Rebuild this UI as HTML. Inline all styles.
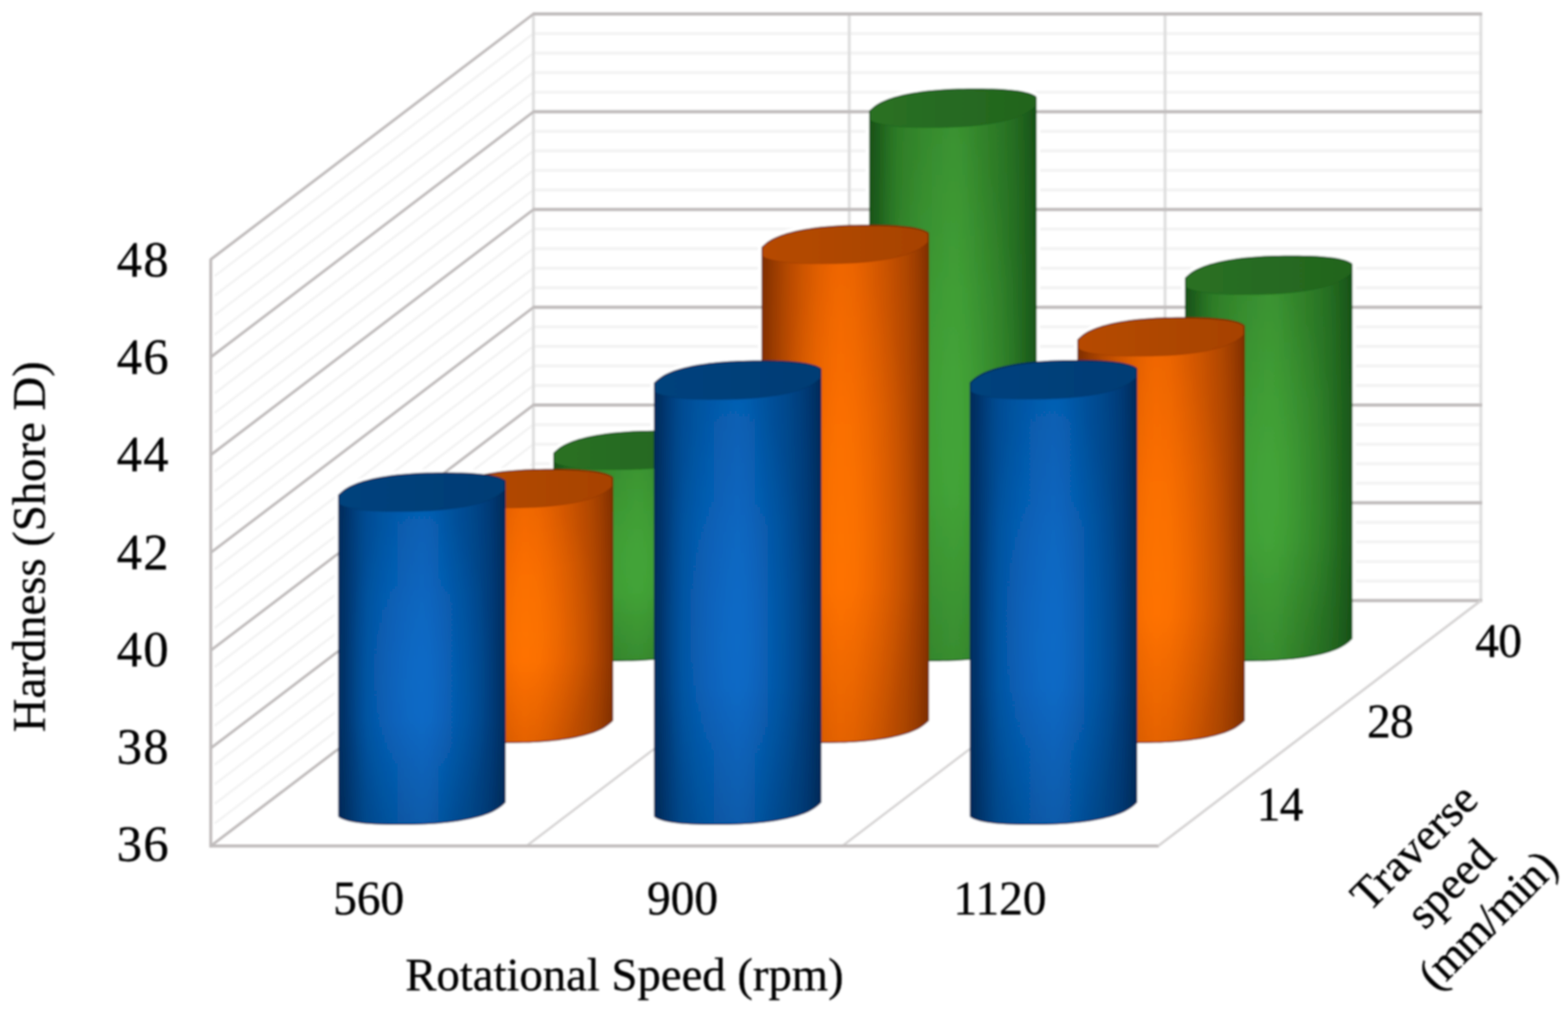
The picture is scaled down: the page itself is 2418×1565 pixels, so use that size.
<!DOCTYPE html>
<html lang="en">
<head>
<meta charset="utf-8">
<title>Hardness (Shore D) vs Rotational Speed and Traverse Speed</title>
<style>
html,body{margin:0;padding:0;background:#fff;}
body{width:2418px;height:1565px;overflow:hidden;}
svg{display:block;}
</style>
</head>
<body>
<svg width="2418" height="1565" viewBox="0 0 2418 1565" role="img" aria-label="3D cylinder chart of hardness (Shore D) against rotational speed (rpm) and traverse speed (mm/min)">
<defs>
<filter id="soft" x="-2%" y="-2%" width="104%" height="104%"><feGaussianBlur stdDeviation="1.5"/></filter>
</defs>
<rect x="0" y="0" width="2418" height="1565" fill="#ffffff"/>
<g filter="url(#soft)">
<g fill="none">
<line x1="822.60" y1="51.75" x2="2283.60" y2="51.75" stroke="#f3f3f3" stroke-width="4.6" />
<line x1="822.60" y1="81.89" x2="2283.60" y2="81.89" stroke="#f3f3f3" stroke-width="4.6" />
<line x1="822.60" y1="112.04" x2="2283.60" y2="112.04" stroke="#f3f3f3" stroke-width="4.6" />
<line x1="822.60" y1="142.19" x2="2283.60" y2="142.19" stroke="#f3f3f3" stroke-width="4.6" />
<line x1="822.60" y1="202.48" x2="2283.60" y2="202.48" stroke="#f3f3f3" stroke-width="4.6" />
<line x1="822.60" y1="232.63" x2="2283.60" y2="232.63" stroke="#f3f3f3" stroke-width="4.6" />
<line x1="822.60" y1="262.77" x2="2283.60" y2="262.77" stroke="#f3f3f3" stroke-width="4.6" />
<line x1="822.60" y1="292.92" x2="2283.60" y2="292.92" stroke="#f3f3f3" stroke-width="4.6" />
<line x1="822.60" y1="353.21" x2="2283.60" y2="353.21" stroke="#f3f3f3" stroke-width="4.6" />
<line x1="822.60" y1="383.36" x2="2283.60" y2="383.36" stroke="#f3f3f3" stroke-width="4.6" />
<line x1="822.60" y1="413.51" x2="2283.60" y2="413.51" stroke="#f3f3f3" stroke-width="4.6" />
<line x1="822.60" y1="443.65" x2="2283.60" y2="443.65" stroke="#f3f3f3" stroke-width="4.6" />
<line x1="822.60" y1="503.95" x2="2283.60" y2="503.95" stroke="#f3f3f3" stroke-width="4.6" />
<line x1="822.60" y1="534.09" x2="2283.60" y2="534.09" stroke="#f3f3f3" stroke-width="4.6" />
<line x1="822.60" y1="564.24" x2="2283.60" y2="564.24" stroke="#f3f3f3" stroke-width="4.6" />
<line x1="822.60" y1="594.39" x2="2283.60" y2="594.39" stroke="#f3f3f3" stroke-width="4.6" />
<line x1="822.60" y1="654.68" x2="2283.60" y2="654.68" stroke="#f3f3f3" stroke-width="4.6" />
<line x1="822.60" y1="684.83" x2="2283.60" y2="684.83" stroke="#f3f3f3" stroke-width="4.6" />
<line x1="822.60" y1="714.97" x2="2283.60" y2="714.97" stroke="#f3f3f3" stroke-width="4.6" />
<line x1="822.60" y1="745.12" x2="2283.60" y2="745.12" stroke="#f3f3f3" stroke-width="4.6" />
<line x1="822.60" y1="805.41" x2="2283.60" y2="805.41" stroke="#f3f3f3" stroke-width="4.6" />
<line x1="822.60" y1="835.56" x2="2283.60" y2="835.56" stroke="#f3f3f3" stroke-width="4.6" />
<line x1="822.60" y1="865.71" x2="2283.60" y2="865.71" stroke="#f3f3f3" stroke-width="4.6" />
<line x1="822.60" y1="895.85" x2="2283.60" y2="895.85" stroke="#f3f3f3" stroke-width="4.6" />
<line x1="331.00" y1="425.58" x2="822.60" y2="51.75" stroke="#f3f3f3" stroke-width="3.6" />
<line x1="331.00" y1="455.73" x2="822.60" y2="81.89" stroke="#f3f3f3" stroke-width="3.6" />
<line x1="331.00" y1="485.88" x2="822.60" y2="112.04" stroke="#f3f3f3" stroke-width="3.6" />
<line x1="331.00" y1="516.02" x2="822.60" y2="142.19" stroke="#f3f3f3" stroke-width="3.6" />
<line x1="331.00" y1="576.32" x2="822.60" y2="202.48" stroke="#f3f3f3" stroke-width="3.6" />
<line x1="331.00" y1="606.46" x2="822.60" y2="232.63" stroke="#f3f3f3" stroke-width="3.6" />
<line x1="331.00" y1="636.61" x2="822.60" y2="262.77" stroke="#f3f3f3" stroke-width="3.6" />
<line x1="331.00" y1="666.76" x2="822.60" y2="292.92" stroke="#f3f3f3" stroke-width="3.6" />
<line x1="331.00" y1="727.05" x2="822.60" y2="353.21" stroke="#f3f3f3" stroke-width="3.6" />
<line x1="331.00" y1="757.20" x2="822.60" y2="383.36" stroke="#f3f3f3" stroke-width="3.6" />
<line x1="331.00" y1="787.34" x2="822.60" y2="413.51" stroke="#f3f3f3" stroke-width="3.6" />
<line x1="331.00" y1="817.49" x2="822.60" y2="443.65" stroke="#f3f3f3" stroke-width="3.6" />
<line x1="331.00" y1="877.78" x2="822.60" y2="503.95" stroke="#f3f3f3" stroke-width="3.6" />
<line x1="331.00" y1="907.93" x2="822.60" y2="534.09" stroke="#f3f3f3" stroke-width="3.6" />
<line x1="331.00" y1="938.08" x2="822.60" y2="564.24" stroke="#f3f3f3" stroke-width="3.6" />
<line x1="331.00" y1="968.22" x2="822.60" y2="594.39" stroke="#f3f3f3" stroke-width="3.6" />
<line x1="331.00" y1="1028.52" x2="822.60" y2="654.68" stroke="#f3f3f3" stroke-width="3.6" />
<line x1="331.00" y1="1058.66" x2="822.60" y2="684.83" stroke="#f3f3f3" stroke-width="3.6" />
<line x1="331.00" y1="1088.81" x2="822.60" y2="714.97" stroke="#f3f3f3" stroke-width="3.6" />
<line x1="331.00" y1="1118.96" x2="822.60" y2="745.12" stroke="#f3f3f3" stroke-width="3.6" />
<line x1="331.00" y1="1179.25" x2="822.60" y2="805.41" stroke="#f3f3f3" stroke-width="3.6" />
<line x1="331.00" y1="1209.40" x2="822.60" y2="835.56" stroke="#f3f3f3" stroke-width="3.6" />
<line x1="331.00" y1="1239.54" x2="822.60" y2="865.71" stroke="#f3f3f3" stroke-width="3.6" />
<line x1="331.00" y1="1269.69" x2="822.60" y2="895.85" stroke="#f3f3f3" stroke-width="3.6" />
</g>
<g fill="#fff" stroke="#fff" stroke-width="13" stroke-linejoin="round">
<path d="M854.2,699.0 L858.9,694.5 L864.8,690.0 L870.6,686.5 L877.1,683.4 L884.4,680.5 L892.5,677.9 L901.3,675.5 L911.0,673.3 L921.3,671.4 L932.4,669.7 L944.1,668.2 L956.5,667.0 L969.5,666.1 L983.4,665.4 L998.4,665.0 L1017.4,664.9 L1036.0,665.0 L1050.1,665.4 L1062.3,666.1 L1073.2,667.0 L1082.7,668.2 L1091.0,669.7 L1098.1,671.4 L1103.8,673.3 L1108.3,675.5 L1110.6,677.9 L1110.6,984.6 L1105.9,989.1 L1100.0,993.6 L1094.2,997.1 L1087.7,1000.2 L1080.4,1003.0 L1072.3,1005.7 L1063.4,1008.1 L1053.8,1010.2 L1043.4,1012.2 L1032.3,1013.9 L1020.6,1015.3 L1008.3,1016.5 L995.2,1017.5 L981.4,1018.1 L966.3,1018.5 L947.4,1018.7 L928.7,1018.5 L914.6,1018.1 L902.4,1017.5 L891.5,1016.5 L882.0,1015.3 L873.7,1013.9 L866.7,1012.2 L860.9,1010.2 L856.4,1008.1 L854.2,1005.7Z"/>
<path d="M1341.2,171.5 L1345.9,167.0 L1351.8,162.5 L1357.6,159.0 L1364.1,155.9 L1371.4,153.0 L1379.5,150.4 L1388.3,148.0 L1398.0,145.8 L1408.3,143.9 L1419.4,142.2 L1431.1,140.7 L1443.5,139.6 L1456.5,138.6 L1470.4,137.9 L1485.4,137.5 L1504.4,137.4 L1523.0,137.5 L1537.1,137.9 L1549.3,138.6 L1560.2,139.6 L1569.7,140.7 L1578.0,142.2 L1585.1,143.9 L1590.8,145.8 L1595.3,148.0 L1597.6,150.4 L1597.6,984.6 L1592.9,989.1 L1587.0,993.6 L1581.2,997.1 L1574.7,1000.2 L1567.4,1003.0 L1559.3,1005.7 L1550.4,1008.1 L1540.8,1010.2 L1530.4,1012.2 L1519.3,1013.9 L1507.6,1015.3 L1495.3,1016.5 L1482.2,1017.5 L1468.4,1018.1 L1453.3,1018.5 L1434.4,1018.7 L1415.7,1018.5 L1401.6,1018.1 L1389.4,1017.5 L1378.5,1016.5 L1369.0,1015.3 L1360.7,1013.9 L1353.7,1012.2 L1347.9,1010.2 L1343.4,1008.1 L1341.2,1005.7Z"/>
<path d="M1828.2,429.0 L1832.9,424.5 L1838.8,420.0 L1844.6,416.5 L1851.1,413.4 L1858.4,410.5 L1866.5,407.9 L1875.3,405.5 L1885.0,403.3 L1895.3,401.4 L1906.4,399.7 L1918.1,398.2 L1930.5,397.1 L1943.5,396.1 L1957.4,395.4 L1972.4,395.0 L1991.4,394.9 L2010.0,395.0 L2024.1,395.4 L2036.3,396.1 L2047.2,397.1 L2056.7,398.2 L2065.0,399.7 L2072.1,401.4 L2077.8,403.3 L2082.3,405.5 L2084.6,407.9 L2084.6,984.6 L2079.9,989.1 L2074.0,993.6 L2068.2,997.1 L2061.7,1000.2 L2054.4,1003.0 L2046.3,1005.7 L2037.4,1008.1 L2027.8,1010.2 L2017.4,1012.2 L2006.3,1013.9 L1994.6,1015.3 L1982.3,1016.5 L1969.2,1017.5 L1955.4,1018.1 L1940.3,1018.5 L1921.4,1018.7 L1902.7,1018.5 L1888.6,1018.1 L1876.4,1017.5 L1865.5,1016.5 L1856.0,1015.3 L1847.7,1013.9 L1840.7,1012.2 L1834.9,1010.2 L1830.4,1008.1 L1828.2,1005.7Z"/>
<path d="M688.3,758.0 L693.0,753.5 L698.9,749.0 L704.7,745.5 L711.2,742.4 L718.5,739.5 L726.6,736.9 L735.5,734.5 L745.1,732.3 L755.5,730.4 L766.5,728.7 L778.2,727.2 L790.6,726.0 L803.6,725.1 L817.5,724.4 L832.5,724.0 L851.5,723.9 L870.1,724.0 L884.2,724.4 L896.5,725.1 L907.3,726.0 L916.9,727.2 L925.1,728.7 L932.2,730.4 L938.0,732.3 L942.5,734.5 L944.7,736.9 L944.7,1110.7 L940.0,1115.2 L934.1,1119.7 L928.3,1123.2 L921.8,1126.3 L914.5,1129.2 L906.4,1131.8 L897.5,1134.2 L887.9,1136.4 L877.5,1138.3 L866.5,1140.0 L854.8,1141.5 L842.4,1142.7 L829.4,1143.6 L815.5,1144.3 L800.5,1144.7 L781.5,1144.8 L762.9,1144.7 L748.8,1144.3 L736.5,1143.6 L725.7,1142.7 L716.1,1141.5 L707.9,1140.0 L700.8,1138.3 L695.0,1136.4 L690.5,1134.2 L688.3,1131.8Z"/>
<path d="M1175.3,381.5 L1180.0,377.0 L1185.9,372.5 L1191.7,369.0 L1198.2,365.9 L1205.5,363.0 L1213.6,360.4 L1222.5,358.0 L1232.1,355.8 L1242.5,353.9 L1253.5,352.2 L1265.2,350.7 L1277.6,349.6 L1290.7,348.6 L1304.5,347.9 L1319.5,347.5 L1338.5,347.4 L1357.2,347.5 L1371.2,347.9 L1383.5,348.6 L1394.3,349.6 L1403.9,350.7 L1412.2,352.2 L1419.2,353.9 L1425.0,355.8 L1429.5,358.0 L1431.7,360.4 L1431.7,1110.7 L1427.0,1115.2 L1421.1,1119.7 L1415.3,1123.2 L1408.8,1126.3 L1401.5,1129.2 L1393.4,1131.8 L1384.5,1134.2 L1374.9,1136.4 L1364.5,1138.3 L1353.5,1140.0 L1341.8,1141.5 L1329.4,1142.7 L1316.3,1143.6 L1302.5,1144.3 L1287.5,1144.7 L1268.5,1144.8 L1249.8,1144.7 L1235.8,1144.3 L1223.5,1143.6 L1212.7,1142.7 L1203.1,1141.5 L1194.8,1140.0 L1187.8,1138.3 L1182.0,1136.4 L1177.5,1134.2 L1175.3,1131.8Z"/>
<path d="M1662.3,524.0 L1667.0,519.5 L1672.9,515.0 L1678.7,511.5 L1685.2,508.4 L1692.5,505.5 L1700.6,502.9 L1709.5,500.5 L1719.1,498.3 L1729.5,496.4 L1740.5,494.7 L1752.2,493.2 L1764.6,492.1 L1777.7,491.1 L1791.5,490.4 L1806.5,490.0 L1825.5,489.9 L1844.2,490.0 L1858.2,490.4 L1870.5,491.1 L1881.3,492.1 L1890.9,493.2 L1899.2,494.7 L1906.2,496.4 L1912.0,498.3 L1916.5,500.5 L1918.7,502.9 L1918.7,1110.7 L1914.0,1115.2 L1908.1,1119.7 L1902.3,1123.2 L1895.8,1126.3 L1888.5,1129.2 L1880.4,1131.8 L1871.5,1134.2 L1861.9,1136.4 L1851.5,1138.3 L1840.5,1140.0 L1828.8,1141.5 L1816.4,1142.7 L1803.3,1143.6 L1789.5,1144.3 L1774.5,1144.7 L1755.5,1144.8 L1736.8,1144.7 L1722.8,1144.3 L1710.5,1143.6 L1699.7,1142.7 L1690.1,1141.5 L1681.8,1140.0 L1674.8,1138.3 L1669.0,1136.4 L1664.5,1134.2 L1662.3,1131.8Z"/>
<path d="M522.4,763.5 L527.1,759.0 L533.0,754.5 L538.8,751.0 L545.4,747.9 L552.6,745.0 L560.7,742.4 L569.6,740.0 L579.2,737.8 L589.6,735.9 L600.6,734.2 L612.4,732.7 L624.7,731.5 L637.8,730.6 L651.6,729.9 L666.7,729.5 L685.6,729.4 L704.3,729.5 L718.4,729.9 L730.6,730.6 L741.5,731.5 L751.0,732.7 L759.3,734.2 L766.3,735.9 L772.1,737.8 L776.6,740.0 L778.8,742.4 L778.8,1236.8 L774.1,1241.3 L768.2,1245.8 L762.4,1249.3 L755.9,1252.5 L748.6,1255.3 L740.5,1258.0 L731.7,1260.3 L722.0,1262.5 L711.7,1264.5 L700.6,1266.1 L688.9,1267.6 L676.5,1268.8 L663.5,1269.7 L649.6,1270.4 L634.6,1270.8 L615.6,1270.9 L597.0,1270.8 L582.9,1270.4 L570.6,1269.7 L559.8,1268.8 L550.3,1267.6 L542.0,1266.1 L534.9,1264.5 L529.2,1262.5 L524.6,1260.3 L522.4,1258.0Z"/>
<path d="M1009.4,590.8 L1014.1,586.3 L1020.0,581.8 L1025.8,578.3 L1032.3,575.2 L1039.6,572.3 L1047.7,569.7 L1056.6,567.3 L1066.2,565.1 L1076.6,563.2 L1087.7,561.5 L1099.4,560.0 L1111.7,558.9 L1124.8,557.9 L1138.6,557.2 L1153.7,556.8 L1172.6,556.7 L1191.3,556.8 L1205.4,557.2 L1217.6,557.9 L1228.5,558.9 L1238.0,560.0 L1246.3,561.5 L1253.3,563.2 L1259.1,565.1 L1263.6,567.3 L1265.8,569.7 L1265.8,1236.8 L1261.1,1241.3 L1255.2,1245.8 L1249.4,1249.3 L1242.9,1252.5 L1235.6,1255.3 L1227.5,1258.0 L1218.7,1260.3 L1209.0,1262.5 L1198.7,1264.5 L1187.6,1266.1 L1175.9,1267.6 L1163.5,1268.8 L1150.5,1269.7 L1136.6,1270.4 L1121.6,1270.8 L1102.6,1270.9 L1084.0,1270.8 L1069.9,1270.4 L1057.7,1269.7 L1046.8,1268.8 L1037.3,1267.6 L1029.0,1266.1 L1021.9,1264.5 L1016.2,1262.5 L1011.6,1260.3 L1009.4,1258.0Z"/>
<path d="M1496.4,590.2 L1501.1,585.7 L1507.0,581.2 L1512.8,577.7 L1519.3,574.6 L1526.6,571.7 L1534.7,569.1 L1543.6,566.7 L1553.2,564.5 L1563.6,562.6 L1574.7,560.9 L1586.4,559.4 L1598.7,558.2 L1611.8,557.3 L1625.6,556.6 L1640.7,556.2 L1659.6,556.1 L1678.3,556.2 L1692.4,556.6 L1704.6,557.3 L1715.5,558.2 L1725.0,559.4 L1733.3,560.9 L1740.3,562.6 L1746.1,564.5 L1750.6,566.7 L1752.8,569.1 L1752.8,1236.8 L1748.1,1241.3 L1742.2,1245.8 L1736.4,1249.3 L1729.9,1252.5 L1722.6,1255.3 L1714.5,1258.0 L1705.7,1260.3 L1696.0,1262.5 L1685.7,1264.5 L1674.6,1266.1 L1662.9,1267.6 L1650.5,1268.8 L1637.5,1269.7 L1623.6,1270.4 L1608.6,1270.8 L1589.6,1270.9 L1571.0,1270.8 L1556.9,1270.4 L1544.7,1269.7 L1533.8,1268.8 L1524.3,1267.6 L1516.0,1266.1 L1508.9,1264.5 L1503.2,1262.5 L1498.7,1260.3 L1496.4,1258.0Z"/>
</g>
<g fill="none">
<line x1="822.60" y1="21.60" x2="822.60" y2="926.00" stroke="#dedede" stroke-width="4.4" />
<line x1="1309.60" y1="21.60" x2="1309.60" y2="926.00" stroke="#dedede" stroke-width="4.4" />
<line x1="1796.60" y1="21.60" x2="1796.60" y2="926.00" stroke="#dedede" stroke-width="4.4" />
<line x1="2283.60" y1="21.60" x2="2283.60" y2="926.00" stroke="#dedede" stroke-width="4.4" />
<line x1="821.60" y1="21.60" x2="2285.60" y2="21.60" stroke="#c0bcbc" stroke-width="5" />
<line x1="821.60" y1="172.33" x2="2285.60" y2="172.33" stroke="#c0bcbc" stroke-width="5" />
<line x1="821.60" y1="323.07" x2="2285.60" y2="323.07" stroke="#c0bcbc" stroke-width="5" />
<line x1="821.60" y1="473.80" x2="2285.60" y2="473.80" stroke="#c0bcbc" stroke-width="5" />
<line x1="821.60" y1="624.53" x2="2285.60" y2="624.53" stroke="#c0bcbc" stroke-width="5" />
<line x1="821.60" y1="775.27" x2="2285.60" y2="775.27" stroke="#c0bcbc" stroke-width="5" />
<line x1="821.60" y1="926.00" x2="2285.60" y2="926.00" stroke="#c0bcbc" stroke-width="5" />
<line x1="325.00" y1="400.00" x2="822.60" y2="21.60" stroke="#c0bcbc" stroke-width="4.2" />
<line x1="325.00" y1="550.73" x2="822.60" y2="172.33" stroke="#c0bcbc" stroke-width="4.2" />
<line x1="325.00" y1="701.47" x2="822.60" y2="323.07" stroke="#c0bcbc" stroke-width="4.2" />
<line x1="325.00" y1="852.20" x2="822.60" y2="473.80" stroke="#c0bcbc" stroke-width="4.2" />
<line x1="325.00" y1="1002.93" x2="822.60" y2="624.53" stroke="#c0bcbc" stroke-width="4.2" />
<line x1="325.00" y1="1153.67" x2="822.60" y2="775.27" stroke="#c0bcbc" stroke-width="4.2" />
<line x1="325.00" y1="1304.40" x2="822.60" y2="926.00" stroke="#c0bcbc" stroke-width="4.2" />
<line x1="325.00" y1="399.00" x2="325.00" y2="1306.40" stroke="#c0bcbc" stroke-width="4.6" />
<line x1="812.00" y1="1304.40" x2="1309.60" y2="926.00" stroke="#d6d4d4" stroke-width="3.6" />
<line x1="1299.00" y1="1304.40" x2="1796.60" y2="926.00" stroke="#d6d4d4" stroke-width="3.6" />
<line x1="1786.00" y1="1304.40" x2="2283.60" y2="926.00" stroke="#d6d4d4" stroke-width="3.6" />
<line x1="323.00" y1="1304.40" x2="1787.00" y2="1304.40" stroke="#c0bcbc" stroke-width="4.8" />
</g>
<linearGradient id="gg0" gradientUnits="userSpaceOnUse" x1="854.2" y1="0" x2="1110.6" y2="0"><stop offset="0.0" stop-color="#195818"/><stop offset="0.03" stop-color="#1c5d1b"/><stop offset="0.06" stop-color="#21661e"/><stop offset="0.12" stop-color="#2a7825"/><stop offset="0.17" stop-color="#308329"/><stop offset="0.25" stop-color="#358b2d"/><stop offset="0.33" stop-color="#38922f"/><stop offset="0.42" stop-color="#3b9732"/><stop offset="0.5" stop-color="#3d9b33"/><stop offset="0.55" stop-color="#3c9932"/><stop offset="0.62" stop-color="#38912f"/><stop offset="0.7" stop-color="#33882b"/><stop offset="0.78" stop-color="#2e7f28"/><stop offset="0.86" stop-color="#287424"/><stop offset="0.92" stop-color="#22691f"/><stop offset="0.97" stop-color="#1c5d1b"/><stop offset="1.0" stop-color="#185618"/></linearGradient>
<radialGradient id="rg0" gradientUnits="userSpaceOnUse" cx="978.4" cy="865.3" r="162.0" fx="978.4" fy="865.3" gradientTransform="translate(978.4 865.3) scale(0.7098 1) translate(-978.4 -865.3)"><stop offset="0" stop-color="#49af3c" stop-opacity="0.5"/><stop offset="0.25" stop-color="#49af3c" stop-opacity="0.400"/><stop offset="0.55" stop-color="#49af3c" stop-opacity="0.200"/><stop offset="1" stop-color="#49af3c" stop-opacity="0"/></radialGradient>
<linearGradient id="vg0" gradientUnits="userSpaceOnUse" x1="0" y1="664.9" x2="0" y2="1018.7"><stop offset="0" stop-color="#000" stop-opacity="0.07"/><stop offset="0.35" stop-color="#000" stop-opacity="0.015"/><stop offset="0.7" stop-color="#000" stop-opacity="0"/><stop offset="1" stop-color="#000" stop-opacity="0.10"/></linearGradient>
<linearGradient id="tg0" gradientUnits="userSpaceOnUse" x1="854.2" y1="0" x2="1110.6" y2="0"><stop offset="0" stop-color="#2a7022"/><stop offset="0.5" stop-color="#266a20"/><stop offset="1" stop-color="#22641e"/></linearGradient>
<path d="M854.2,699.0 L856.0,697.0 L858.9,694.5 L862.0,692.0 L864.8,690.0 L867.6,688.2 L870.6,686.5 L873.7,684.9 L877.1,683.4 L880.6,681.9 L884.4,680.5 L888.3,679.2 L892.5,677.9 L896.8,676.7 L901.3,675.5 L906.1,674.4 L911.0,673.3 L916.1,672.3 L921.3,671.4 L926.8,670.5 L932.4,669.7 L938.2,668.9 L944.1,668.2 L950.2,667.6 L956.5,667.0 L962.9,666.5 L969.5,666.1 L976.3,665.7 L983.4,665.4 L990.7,665.2 L998.4,665.0 L1006.8,664.9 L1017.4,664.9 L1027.9,664.9 L1036.0,665.0 L1043.3,665.2 L1050.1,665.4 L1056.4,665.7 L1062.3,666.1 L1067.9,666.5 L1073.2,667.0 L1078.1,667.6 L1082.7,668.2 L1087.0,668.9 L1091.0,669.7 L1094.7,670.5 L1098.1,671.4 L1101.1,672.3 L1103.8,673.3 L1106.3,674.4 L1108.3,675.5 L1110.1,676.7 L1110.6,677.9 L1110.6,984.6 L1108.7,986.5 L1105.9,989.1 L1102.7,991.6 L1100.0,993.6 L1097.1,995.4 L1094.2,997.1 L1091.0,998.7 L1087.7,1000.2 L1084.1,1001.6 L1080.4,1003.0 L1076.4,1004.4 L1072.3,1005.7 L1067.9,1006.9 L1063.4,1008.1 L1058.7,1009.2 L1053.8,1010.2 L1048.7,1011.2 L1043.4,1012.2 L1038.0,1013.1 L1032.3,1013.9 L1026.6,1014.6 L1020.6,1015.3 L1014.5,1016.0 L1008.3,1016.5 L1001.8,1017.0 L995.2,1017.5 L988.4,1017.8 L981.4,1018.1 L974.0,1018.4 L966.3,1018.5 L958.0,1018.6 L947.4,1018.7 L936.8,1018.6 L928.7,1018.5 L921.4,1018.4 L914.6,1018.1 L908.3,1017.8 L902.4,1017.5 L896.8,1017.0 L891.5,1016.5 L886.6,1016.0 L882.0,1015.3 L877.7,1014.6 L873.7,1013.9 L870.0,1013.1 L866.7,1012.2 L863.6,1011.2 L860.9,1010.2 L858.5,1009.2 L856.4,1008.1 L854.6,1006.9 L854.2,1005.7Z" fill="url(#gg0)"/>
<path d="M854.2,699.0 L856.0,697.0 L858.9,694.5 L862.0,692.0 L864.8,690.0 L867.6,688.2 L870.6,686.5 L873.7,684.9 L877.1,683.4 L880.6,681.9 L884.4,680.5 L888.3,679.2 L892.5,677.9 L896.8,676.7 L901.3,675.5 L906.1,674.4 L911.0,673.3 L916.1,672.3 L921.3,671.4 L926.8,670.5 L932.4,669.7 L938.2,668.9 L944.1,668.2 L950.2,667.6 L956.5,667.0 L962.9,666.5 L969.5,666.1 L976.3,665.7 L983.4,665.4 L990.7,665.2 L998.4,665.0 L1006.8,664.9 L1017.4,664.9 L1027.9,664.9 L1036.0,665.0 L1043.3,665.2 L1050.1,665.4 L1056.4,665.7 L1062.3,666.1 L1067.9,666.5 L1073.2,667.0 L1078.1,667.6 L1082.7,668.2 L1087.0,668.9 L1091.0,669.7 L1094.7,670.5 L1098.1,671.4 L1101.1,672.3 L1103.8,673.3 L1106.3,674.4 L1108.3,675.5 L1110.1,676.7 L1110.6,677.9 L1110.6,984.6 L1108.7,986.5 L1105.9,989.1 L1102.7,991.6 L1100.0,993.6 L1097.1,995.4 L1094.2,997.1 L1091.0,998.7 L1087.7,1000.2 L1084.1,1001.6 L1080.4,1003.0 L1076.4,1004.4 L1072.3,1005.7 L1067.9,1006.9 L1063.4,1008.1 L1058.7,1009.2 L1053.8,1010.2 L1048.7,1011.2 L1043.4,1012.2 L1038.0,1013.1 L1032.3,1013.9 L1026.6,1014.6 L1020.6,1015.3 L1014.5,1016.0 L1008.3,1016.5 L1001.8,1017.0 L995.2,1017.5 L988.4,1017.8 L981.4,1018.1 L974.0,1018.4 L966.3,1018.5 L958.0,1018.6 L947.4,1018.7 L936.8,1018.6 L928.7,1018.5 L921.4,1018.4 L914.6,1018.1 L908.3,1017.8 L902.4,1017.5 L896.8,1017.0 L891.5,1016.5 L886.6,1016.0 L882.0,1015.3 L877.7,1014.6 L873.7,1013.9 L870.0,1013.1 L866.7,1012.2 L863.6,1011.2 L860.9,1010.2 L858.5,1009.2 L856.4,1008.1 L854.6,1006.9 L854.2,1005.7Z" fill="url(#rg0)"/>
<path d="M854.2,699.0 L856.0,697.0 L858.9,694.5 L862.0,692.0 L864.8,690.0 L867.6,688.2 L870.6,686.5 L873.7,684.9 L877.1,683.4 L880.6,681.9 L884.4,680.5 L888.3,679.2 L892.5,677.9 L896.8,676.7 L901.3,675.5 L906.1,674.4 L911.0,673.3 L916.1,672.3 L921.3,671.4 L926.8,670.5 L932.4,669.7 L938.2,668.9 L944.1,668.2 L950.2,667.6 L956.5,667.0 L962.9,666.5 L969.5,666.1 L976.3,665.7 L983.4,665.4 L990.7,665.2 L998.4,665.0 L1006.8,664.9 L1017.4,664.9 L1027.9,664.9 L1036.0,665.0 L1043.3,665.2 L1050.1,665.4 L1056.4,665.7 L1062.3,666.1 L1067.9,666.5 L1073.2,667.0 L1078.1,667.6 L1082.7,668.2 L1087.0,668.9 L1091.0,669.7 L1094.7,670.5 L1098.1,671.4 L1101.1,672.3 L1103.8,673.3 L1106.3,674.4 L1108.3,675.5 L1110.1,676.7 L1110.6,677.9 L1110.6,984.6 L1108.7,986.5 L1105.9,989.1 L1102.7,991.6 L1100.0,993.6 L1097.1,995.4 L1094.2,997.1 L1091.0,998.7 L1087.7,1000.2 L1084.1,1001.6 L1080.4,1003.0 L1076.4,1004.4 L1072.3,1005.7 L1067.9,1006.9 L1063.4,1008.1 L1058.7,1009.2 L1053.8,1010.2 L1048.7,1011.2 L1043.4,1012.2 L1038.0,1013.1 L1032.3,1013.9 L1026.6,1014.6 L1020.6,1015.3 L1014.5,1016.0 L1008.3,1016.5 L1001.8,1017.0 L995.2,1017.5 L988.4,1017.8 L981.4,1018.1 L974.0,1018.4 L966.3,1018.5 L958.0,1018.6 L947.4,1018.7 L936.8,1018.6 L928.7,1018.5 L921.4,1018.4 L914.6,1018.1 L908.3,1017.8 L902.4,1017.5 L896.8,1017.0 L891.5,1016.5 L886.6,1016.0 L882.0,1015.3 L877.7,1014.6 L873.7,1013.9 L870.0,1013.1 L866.7,1012.2 L863.6,1011.2 L860.9,1010.2 L858.5,1009.2 L856.4,1008.1 L854.6,1006.9 L854.2,1005.7Z" fill="url(#vg0)"/>
<path d="M1105.9,694.5 L1108.7,692.0 L1110.6,690.0 L1110.6,688.2 L1110.6,686.5 L1110.6,684.9 L1110.6,683.4 L1110.6,681.9 L1110.6,680.5 L1110.6,679.2 L1110.6,677.9 L1110.1,676.7 L1108.4,675.5 L1106.3,674.4 L1103.8,673.3 L1101.1,672.3 L1098.1,671.4 L1094.7,670.5 L1091.0,669.7 L1087.0,668.9 L1082.7,668.2 L1078.1,667.6 L1073.2,667.0 L1067.9,666.5 L1062.3,666.1 L1056.4,665.7 L1050.1,665.4 L1043.3,665.2 L1036.0,665.0 L1027.9,664.9 L1017.4,664.9 L1006.8,664.9 L998.4,665.0 L990.7,665.2 L983.4,665.4 L976.3,665.7 L969.5,666.1 L962.9,666.5 L956.5,667.0 L950.2,667.6 L944.1,668.2 L938.2,668.9 L932.4,669.7 L926.8,670.5 L921.3,671.4 L916.1,672.3 L911.0,673.3 L906.1,674.4 L901.3,675.5 L896.8,676.7 L892.5,677.9 L888.3,679.2 L884.4,680.5 L880.6,681.9 L877.1,683.4 L873.7,684.9 L870.6,686.5 L867.6,688.2 L864.8,690.0 L862.0,692.0 L858.9,694.5 L856.0,697.0 L854.2,699.0 L854.2,700.8 L854.2,702.5 L854.2,704.1 L854.2,705.6 L854.2,707.1 L854.2,708.5 L854.2,709.8 L854.2,711.1 L854.6,712.3 L856.4,713.5 L858.5,714.6 L860.9,715.7 L863.6,716.7 L866.7,717.6 L870.0,718.5 L873.7,719.3 L877.7,720.1 L882.0,720.8 L886.6,721.4 L891.5,722.0 L896.8,722.5 L902.4,722.9 L908.3,723.3 L914.6,723.6 L921.4,723.8 L928.7,724.0 L936.8,724.1 L947.4,724.1 L958.0,724.1 L966.3,724.0 L974.0,723.8 L981.4,723.6 L988.4,723.3 L995.2,722.9 L1001.8,722.5 L1008.3,722.0 L1014.5,721.4 L1020.6,720.8 L1026.6,720.1 L1032.3,719.3 L1038.0,718.5 L1043.4,717.6 L1048.7,716.7 L1053.8,715.7 L1058.7,714.6 L1063.4,713.5 L1067.9,712.3 L1072.3,711.1 L1076.4,709.8 L1080.4,708.5 L1084.1,707.1 L1087.7,705.6 L1091.0,704.1 L1094.2,702.5 L1097.1,700.8 L1100.0,699.0 L1102.7,697.0 L1105.9,694.5Z" fill="url(#tg0)" stroke="#004a08" stroke-width="1" stroke-opacity="0.35"/>
<path d="M854.2,699.0 L856.0,697.0 L858.9,694.5 L862.0,692.0 L864.8,690.0 L867.6,688.2 L870.6,686.5 L873.7,684.9 L877.1,683.4 L880.6,681.9 L884.4,680.5 L888.3,679.2 L892.5,677.9 L896.8,676.7 L901.3,675.5 L906.1,674.4 L911.0,673.3 L916.1,672.3 L921.3,671.4 L926.8,670.5 L932.4,669.7 L938.2,668.9 L944.1,668.2 L950.2,667.6 L956.5,667.0 L962.9,666.5 L969.5,666.1 L976.3,665.7 L983.4,665.4 L990.7,665.2 L998.4,665.0 L1006.8,664.9 L1017.4,664.9 L1027.9,664.9 L1036.0,665.0 L1043.3,665.2 L1050.1,665.4 L1056.4,665.7 L1062.3,666.1 L1067.9,666.5 L1073.2,667.0 L1078.1,667.6 L1082.7,668.2 L1087.0,668.9 L1091.0,669.7 L1094.7,670.5 L1098.1,671.4 L1101.1,672.3 L1103.8,673.3 L1106.3,674.4 L1108.3,675.5 L1110.1,676.7 L1110.6,677.9 L1110.6,984.6 L1108.7,986.5 L1105.9,989.1 L1102.7,991.6 L1100.0,993.6 L1097.1,995.4 L1094.2,997.1 L1091.0,998.7 L1087.7,1000.2 L1084.1,1001.6 L1080.4,1003.0 L1076.4,1004.4 L1072.3,1005.7 L1067.9,1006.9 L1063.4,1008.1 L1058.7,1009.2 L1053.8,1010.2 L1048.7,1011.2 L1043.4,1012.2 L1038.0,1013.1 L1032.3,1013.9 L1026.6,1014.6 L1020.6,1015.3 L1014.5,1016.0 L1008.3,1016.5 L1001.8,1017.0 L995.2,1017.5 L988.4,1017.8 L981.4,1018.1 L974.0,1018.4 L966.3,1018.5 L958.0,1018.6 L947.4,1018.7 L936.8,1018.6 L928.7,1018.5 L921.4,1018.4 L914.6,1018.1 L908.3,1017.8 L902.4,1017.5 L896.8,1017.0 L891.5,1016.5 L886.6,1016.0 L882.0,1015.3 L877.7,1014.6 L873.7,1013.9 L870.0,1013.1 L866.7,1012.2 L863.6,1011.2 L860.9,1010.2 L858.5,1009.2 L856.4,1008.1 L854.6,1006.9 L854.2,1005.7Z" fill="none" stroke="#004a08" stroke-width="2.2" stroke-opacity="0.8"/>
<linearGradient id="gg1" gradientUnits="userSpaceOnUse" x1="1341.2" y1="0" x2="1597.6" y2="0"><stop offset="0.0" stop-color="#195818"/><stop offset="0.03" stop-color="#1c5d1b"/><stop offset="0.06" stop-color="#21661e"/><stop offset="0.12" stop-color="#2a7825"/><stop offset="0.17" stop-color="#308329"/><stop offset="0.25" stop-color="#358b2d"/><stop offset="0.33" stop-color="#38922f"/><stop offset="0.42" stop-color="#3b9732"/><stop offset="0.5" stop-color="#3d9b33"/><stop offset="0.55" stop-color="#3c9932"/><stop offset="0.62" stop-color="#38912f"/><stop offset="0.7" stop-color="#33882b"/><stop offset="0.78" stop-color="#2e7f28"/><stop offset="0.86" stop-color="#287424"/><stop offset="0.92" stop-color="#22691f"/><stop offset="0.97" stop-color="#1c5d1b"/><stop offset="1.0" stop-color="#185618"/></linearGradient>
<radialGradient id="rg1" gradientUnits="userSpaceOnUse" cx="1465.4" cy="643.8" r="452.1" fx="1465.4" fy="643.8" gradientTransform="translate(1465.4 643.8) scale(0.2543 1) translate(-1465.4 -643.8)"><stop offset="0" stop-color="#49af3c" stop-opacity="0.5"/><stop offset="0.25" stop-color="#49af3c" stop-opacity="0.400"/><stop offset="0.55" stop-color="#49af3c" stop-opacity="0.200"/><stop offset="1" stop-color="#49af3c" stop-opacity="0"/></radialGradient>
<linearGradient id="vg1" gradientUnits="userSpaceOnUse" x1="0" y1="137.4" x2="0" y2="1018.7"><stop offset="0" stop-color="#000" stop-opacity="0.07"/><stop offset="0.35" stop-color="#000" stop-opacity="0.015"/><stop offset="0.7" stop-color="#000" stop-opacity="0"/><stop offset="1" stop-color="#000" stop-opacity="0.10"/></linearGradient>
<linearGradient id="tg1" gradientUnits="userSpaceOnUse" x1="1341.2" y1="0" x2="1597.6" y2="0"><stop offset="0" stop-color="#2a7022"/><stop offset="0.5" stop-color="#266a20"/><stop offset="1" stop-color="#22641e"/></linearGradient>
<path d="M1341.2,171.5 L1343.0,169.5 L1345.9,167.0 L1349.0,164.5 L1351.8,162.5 L1354.6,160.7 L1357.6,159.0 L1360.7,157.4 L1364.1,155.9 L1367.6,154.4 L1371.4,153.0 L1375.3,151.7 L1379.5,150.4 L1383.8,149.2 L1388.3,148.0 L1393.1,146.9 L1398.0,145.8 L1403.1,144.8 L1408.3,143.9 L1413.8,143.0 L1419.4,142.2 L1425.2,141.4 L1431.1,140.7 L1437.2,140.1 L1443.5,139.6 L1449.9,139.1 L1456.5,138.6 L1463.3,138.2 L1470.4,137.9 L1477.7,137.7 L1485.4,137.5 L1493.8,137.4 L1504.4,137.4 L1514.9,137.4 L1523.0,137.5 L1530.3,137.7 L1537.1,137.9 L1543.4,138.2 L1549.3,138.6 L1554.9,139.1 L1560.2,139.6 L1565.1,140.1 L1569.7,140.7 L1574.0,141.4 L1578.0,142.2 L1581.7,143.0 L1585.1,143.9 L1588.1,144.8 L1590.8,145.8 L1593.3,146.9 L1595.3,148.0 L1597.1,149.2 L1597.6,150.4 L1597.6,984.6 L1595.7,986.5 L1592.9,989.1 L1589.7,991.6 L1587.0,993.6 L1584.1,995.4 L1581.2,997.1 L1578.0,998.7 L1574.7,1000.2 L1571.1,1001.6 L1567.4,1003.0 L1563.4,1004.4 L1559.3,1005.7 L1554.9,1006.9 L1550.4,1008.1 L1545.7,1009.2 L1540.8,1010.2 L1535.7,1011.2 L1530.4,1012.2 L1525.0,1013.1 L1519.3,1013.9 L1513.6,1014.6 L1507.6,1015.3 L1501.5,1016.0 L1495.3,1016.5 L1488.8,1017.0 L1482.2,1017.5 L1475.4,1017.8 L1468.4,1018.1 L1461.0,1018.4 L1453.3,1018.5 L1445.0,1018.6 L1434.4,1018.7 L1423.8,1018.6 L1415.7,1018.5 L1408.4,1018.4 L1401.6,1018.1 L1395.3,1017.8 L1389.4,1017.5 L1383.8,1017.0 L1378.5,1016.5 L1373.6,1016.0 L1369.0,1015.3 L1364.7,1014.6 L1360.7,1013.9 L1357.0,1013.1 L1353.7,1012.2 L1350.6,1011.2 L1347.9,1010.2 L1345.5,1009.2 L1343.4,1008.1 L1341.6,1006.9 L1341.2,1005.7Z" fill="url(#gg1)"/>
<path d="M1341.2,171.5 L1343.0,169.5 L1345.9,167.0 L1349.0,164.5 L1351.8,162.5 L1354.6,160.7 L1357.6,159.0 L1360.7,157.4 L1364.1,155.9 L1367.6,154.4 L1371.4,153.0 L1375.3,151.7 L1379.5,150.4 L1383.8,149.2 L1388.3,148.0 L1393.1,146.9 L1398.0,145.8 L1403.1,144.8 L1408.3,143.9 L1413.8,143.0 L1419.4,142.2 L1425.2,141.4 L1431.1,140.7 L1437.2,140.1 L1443.5,139.6 L1449.9,139.1 L1456.5,138.6 L1463.3,138.2 L1470.4,137.9 L1477.7,137.7 L1485.4,137.5 L1493.8,137.4 L1504.4,137.4 L1514.9,137.4 L1523.0,137.5 L1530.3,137.7 L1537.1,137.9 L1543.4,138.2 L1549.3,138.6 L1554.9,139.1 L1560.2,139.6 L1565.1,140.1 L1569.7,140.7 L1574.0,141.4 L1578.0,142.2 L1581.7,143.0 L1585.1,143.9 L1588.1,144.8 L1590.8,145.8 L1593.3,146.9 L1595.3,148.0 L1597.1,149.2 L1597.6,150.4 L1597.6,984.6 L1595.7,986.5 L1592.9,989.1 L1589.7,991.6 L1587.0,993.6 L1584.1,995.4 L1581.2,997.1 L1578.0,998.7 L1574.7,1000.2 L1571.1,1001.6 L1567.4,1003.0 L1563.4,1004.4 L1559.3,1005.7 L1554.9,1006.9 L1550.4,1008.1 L1545.7,1009.2 L1540.8,1010.2 L1535.7,1011.2 L1530.4,1012.2 L1525.0,1013.1 L1519.3,1013.9 L1513.6,1014.6 L1507.6,1015.3 L1501.5,1016.0 L1495.3,1016.5 L1488.8,1017.0 L1482.2,1017.5 L1475.4,1017.8 L1468.4,1018.1 L1461.0,1018.4 L1453.3,1018.5 L1445.0,1018.6 L1434.4,1018.7 L1423.8,1018.6 L1415.7,1018.5 L1408.4,1018.4 L1401.6,1018.1 L1395.3,1017.8 L1389.4,1017.5 L1383.8,1017.0 L1378.5,1016.5 L1373.6,1016.0 L1369.0,1015.3 L1364.7,1014.6 L1360.7,1013.9 L1357.0,1013.1 L1353.7,1012.2 L1350.6,1011.2 L1347.9,1010.2 L1345.5,1009.2 L1343.4,1008.1 L1341.6,1006.9 L1341.2,1005.7Z" fill="url(#rg1)"/>
<path d="M1341.2,171.5 L1343.0,169.5 L1345.9,167.0 L1349.0,164.5 L1351.8,162.5 L1354.6,160.7 L1357.6,159.0 L1360.7,157.4 L1364.1,155.9 L1367.6,154.4 L1371.4,153.0 L1375.3,151.7 L1379.5,150.4 L1383.8,149.2 L1388.3,148.0 L1393.1,146.9 L1398.0,145.8 L1403.1,144.8 L1408.3,143.9 L1413.8,143.0 L1419.4,142.2 L1425.2,141.4 L1431.1,140.7 L1437.2,140.1 L1443.5,139.6 L1449.9,139.1 L1456.5,138.6 L1463.3,138.2 L1470.4,137.9 L1477.7,137.7 L1485.4,137.5 L1493.8,137.4 L1504.4,137.4 L1514.9,137.4 L1523.0,137.5 L1530.3,137.7 L1537.1,137.9 L1543.4,138.2 L1549.3,138.6 L1554.9,139.1 L1560.2,139.6 L1565.1,140.1 L1569.7,140.7 L1574.0,141.4 L1578.0,142.2 L1581.7,143.0 L1585.1,143.9 L1588.1,144.8 L1590.8,145.8 L1593.3,146.9 L1595.3,148.0 L1597.1,149.2 L1597.6,150.4 L1597.6,984.6 L1595.7,986.5 L1592.9,989.1 L1589.7,991.6 L1587.0,993.6 L1584.1,995.4 L1581.2,997.1 L1578.0,998.7 L1574.7,1000.2 L1571.1,1001.6 L1567.4,1003.0 L1563.4,1004.4 L1559.3,1005.7 L1554.9,1006.9 L1550.4,1008.1 L1545.7,1009.2 L1540.8,1010.2 L1535.7,1011.2 L1530.4,1012.2 L1525.0,1013.1 L1519.3,1013.9 L1513.6,1014.6 L1507.6,1015.3 L1501.5,1016.0 L1495.3,1016.5 L1488.8,1017.0 L1482.2,1017.5 L1475.4,1017.8 L1468.4,1018.1 L1461.0,1018.4 L1453.3,1018.5 L1445.0,1018.6 L1434.4,1018.7 L1423.8,1018.6 L1415.7,1018.5 L1408.4,1018.4 L1401.6,1018.1 L1395.3,1017.8 L1389.4,1017.5 L1383.8,1017.0 L1378.5,1016.5 L1373.6,1016.0 L1369.0,1015.3 L1364.7,1014.6 L1360.7,1013.9 L1357.0,1013.1 L1353.7,1012.2 L1350.6,1011.2 L1347.9,1010.2 L1345.5,1009.2 L1343.4,1008.1 L1341.6,1006.9 L1341.2,1005.7Z" fill="url(#vg1)"/>
<path d="M1592.9,167.0 L1595.7,164.5 L1597.6,162.5 L1597.6,160.7 L1597.6,159.0 L1597.6,157.4 L1597.6,155.9 L1597.6,154.4 L1597.6,153.0 L1597.6,151.7 L1597.6,150.4 L1597.1,149.2 L1595.4,148.0 L1593.3,146.9 L1590.8,145.8 L1588.1,144.8 L1585.1,143.9 L1581.7,143.0 L1578.0,142.2 L1574.0,141.4 L1569.7,140.7 L1565.1,140.1 L1560.2,139.5 L1554.9,139.0 L1549.3,138.6 L1543.4,138.2 L1537.1,137.9 L1530.3,137.7 L1523.0,137.5 L1514.9,137.4 L1504.4,137.4 L1493.8,137.4 L1485.4,137.5 L1477.7,137.7 L1470.4,137.9 L1463.3,138.2 L1456.5,138.6 L1449.9,139.0 L1443.5,139.5 L1437.2,140.1 L1431.1,140.7 L1425.2,141.4 L1419.4,142.2 L1413.8,143.0 L1408.3,143.9 L1403.1,144.8 L1398.0,145.8 L1393.1,146.9 L1388.3,148.0 L1383.8,149.2 L1379.5,150.4 L1375.3,151.7 L1371.4,153.0 L1367.6,154.4 L1364.1,155.9 L1360.7,157.4 L1357.6,159.0 L1354.6,160.7 L1351.8,162.5 L1349.0,164.5 L1345.9,167.0 L1343.0,169.5 L1341.2,171.5 L1341.2,173.3 L1341.2,175.0 L1341.2,176.6 L1341.2,178.1 L1341.2,179.6 L1341.2,181.0 L1341.2,182.3 L1341.2,183.6 L1341.6,184.8 L1343.4,186.0 L1345.5,187.1 L1347.9,188.2 L1350.6,189.2 L1353.7,190.1 L1357.0,191.0 L1360.7,191.8 L1364.7,192.6 L1369.0,193.3 L1373.6,193.9 L1378.5,194.5 L1383.8,195.0 L1389.4,195.4 L1395.3,195.8 L1401.6,196.1 L1408.4,196.3 L1415.7,196.5 L1423.8,196.6 L1434.4,196.6 L1445.0,196.6 L1453.3,196.5 L1461.0,196.3 L1468.4,196.1 L1475.4,195.8 L1482.2,195.4 L1488.8,195.0 L1495.3,194.5 L1501.5,193.9 L1507.6,193.3 L1513.6,192.6 L1519.3,191.8 L1525.0,191.0 L1530.4,190.1 L1535.7,189.2 L1540.8,188.2 L1545.7,187.1 L1550.4,186.0 L1554.9,184.8 L1559.3,183.6 L1563.4,182.3 L1567.4,181.0 L1571.1,179.6 L1574.7,178.1 L1578.0,176.6 L1581.2,175.0 L1584.1,173.3 L1587.0,171.5 L1589.7,169.5 L1592.9,167.0Z" fill="url(#tg1)" stroke="#004a08" stroke-width="1" stroke-opacity="0.35"/>
<path d="M1341.2,171.5 L1343.0,169.5 L1345.9,167.0 L1349.0,164.5 L1351.8,162.5 L1354.6,160.7 L1357.6,159.0 L1360.7,157.4 L1364.1,155.9 L1367.6,154.4 L1371.4,153.0 L1375.3,151.7 L1379.5,150.4 L1383.8,149.2 L1388.3,148.0 L1393.1,146.9 L1398.0,145.8 L1403.1,144.8 L1408.3,143.9 L1413.8,143.0 L1419.4,142.2 L1425.2,141.4 L1431.1,140.7 L1437.2,140.1 L1443.5,139.6 L1449.9,139.1 L1456.5,138.6 L1463.3,138.2 L1470.4,137.9 L1477.7,137.7 L1485.4,137.5 L1493.8,137.4 L1504.4,137.4 L1514.9,137.4 L1523.0,137.5 L1530.3,137.7 L1537.1,137.9 L1543.4,138.2 L1549.3,138.6 L1554.9,139.1 L1560.2,139.6 L1565.1,140.1 L1569.7,140.7 L1574.0,141.4 L1578.0,142.2 L1581.7,143.0 L1585.1,143.9 L1588.1,144.8 L1590.8,145.8 L1593.3,146.9 L1595.3,148.0 L1597.1,149.2 L1597.6,150.4 L1597.6,984.6 L1595.7,986.5 L1592.9,989.1 L1589.7,991.6 L1587.0,993.6 L1584.1,995.4 L1581.2,997.1 L1578.0,998.7 L1574.7,1000.2 L1571.1,1001.6 L1567.4,1003.0 L1563.4,1004.4 L1559.3,1005.7 L1554.9,1006.9 L1550.4,1008.1 L1545.7,1009.2 L1540.8,1010.2 L1535.7,1011.2 L1530.4,1012.2 L1525.0,1013.1 L1519.3,1013.9 L1513.6,1014.6 L1507.6,1015.3 L1501.5,1016.0 L1495.3,1016.5 L1488.8,1017.0 L1482.2,1017.5 L1475.4,1017.8 L1468.4,1018.1 L1461.0,1018.4 L1453.3,1018.5 L1445.0,1018.6 L1434.4,1018.7 L1423.8,1018.6 L1415.7,1018.5 L1408.4,1018.4 L1401.6,1018.1 L1395.3,1017.8 L1389.4,1017.5 L1383.8,1017.0 L1378.5,1016.5 L1373.6,1016.0 L1369.0,1015.3 L1364.7,1014.6 L1360.7,1013.9 L1357.0,1013.1 L1353.7,1012.2 L1350.6,1011.2 L1347.9,1010.2 L1345.5,1009.2 L1343.4,1008.1 L1341.6,1006.9 L1341.2,1005.7Z" fill="none" stroke="#004a08" stroke-width="2.2" stroke-opacity="0.8"/>
<linearGradient id="gg2" gradientUnits="userSpaceOnUse" x1="1828.2" y1="0" x2="2084.6" y2="0"><stop offset="0.0" stop-color="#195818"/><stop offset="0.03" stop-color="#1c5d1b"/><stop offset="0.06" stop-color="#21661e"/><stop offset="0.12" stop-color="#2a7825"/><stop offset="0.17" stop-color="#308329"/><stop offset="0.25" stop-color="#358b2d"/><stop offset="0.33" stop-color="#38922f"/><stop offset="0.42" stop-color="#3b9732"/><stop offset="0.5" stop-color="#3d9b33"/><stop offset="0.55" stop-color="#3c9932"/><stop offset="0.62" stop-color="#38912f"/><stop offset="0.7" stop-color="#33882b"/><stop offset="0.78" stop-color="#2e7f28"/><stop offset="0.86" stop-color="#287424"/><stop offset="0.92" stop-color="#22691f"/><stop offset="0.97" stop-color="#1c5d1b"/><stop offset="1.0" stop-color="#185618"/></linearGradient>
<radialGradient id="rg2" gradientUnits="userSpaceOnUse" cx="1952.4" cy="751.9" r="310.5" fx="1952.4" fy="751.9" gradientTransform="translate(1952.4 751.9) scale(0.3704 1) translate(-1952.4 -751.9)"><stop offset="0" stop-color="#49af3c" stop-opacity="0.5"/><stop offset="0.25" stop-color="#49af3c" stop-opacity="0.400"/><stop offset="0.55" stop-color="#49af3c" stop-opacity="0.200"/><stop offset="1" stop-color="#49af3c" stop-opacity="0"/></radialGradient>
<linearGradient id="vg2" gradientUnits="userSpaceOnUse" x1="0" y1="394.9" x2="0" y2="1018.7"><stop offset="0" stop-color="#000" stop-opacity="0.07"/><stop offset="0.35" stop-color="#000" stop-opacity="0.015"/><stop offset="0.7" stop-color="#000" stop-opacity="0"/><stop offset="1" stop-color="#000" stop-opacity="0.10"/></linearGradient>
<linearGradient id="tg2" gradientUnits="userSpaceOnUse" x1="1828.2" y1="0" x2="2084.6" y2="0"><stop offset="0" stop-color="#2a7022"/><stop offset="0.5" stop-color="#266a20"/><stop offset="1" stop-color="#22641e"/></linearGradient>
<path d="M1828.2,429.0 L1830.0,427.0 L1832.9,424.5 L1836.0,422.0 L1838.8,420.0 L1841.6,418.2 L1844.6,416.5 L1847.7,414.9 L1851.1,413.4 L1854.6,411.9 L1858.4,410.5 L1862.3,409.2 L1866.5,407.9 L1870.8,406.7 L1875.3,405.5 L1880.1,404.4 L1885.0,403.3 L1890.1,402.3 L1895.3,401.4 L1900.8,400.5 L1906.4,399.7 L1912.2,398.9 L1918.1,398.2 L1924.2,397.6 L1930.5,397.1 L1936.9,396.6 L1943.5,396.1 L1950.3,395.7 L1957.4,395.4 L1964.7,395.2 L1972.4,395.0 L1980.8,394.9 L1991.4,394.9 L2001.9,394.9 L2010.0,395.0 L2017.3,395.2 L2024.1,395.4 L2030.4,395.7 L2036.3,396.1 L2041.9,396.6 L2047.2,397.1 L2052.1,397.6 L2056.7,398.2 L2061.0,398.9 L2065.0,399.7 L2068.7,400.5 L2072.1,401.4 L2075.1,402.3 L2077.8,403.3 L2080.3,404.4 L2082.3,405.5 L2084.1,406.7 L2084.6,407.9 L2084.6,984.6 L2082.7,986.5 L2079.9,989.1 L2076.7,991.6 L2074.0,993.6 L2071.1,995.4 L2068.2,997.1 L2065.0,998.7 L2061.7,1000.2 L2058.1,1001.6 L2054.4,1003.0 L2050.4,1004.4 L2046.3,1005.7 L2041.9,1006.9 L2037.4,1008.1 L2032.7,1009.2 L2027.8,1010.2 L2022.7,1011.2 L2017.4,1012.2 L2012.0,1013.1 L2006.3,1013.9 L2000.6,1014.6 L1994.6,1015.3 L1988.5,1016.0 L1982.3,1016.5 L1975.8,1017.0 L1969.2,1017.5 L1962.4,1017.8 L1955.4,1018.1 L1948.0,1018.4 L1940.3,1018.5 L1932.0,1018.6 L1921.4,1018.7 L1910.8,1018.6 L1902.7,1018.5 L1895.4,1018.4 L1888.6,1018.1 L1882.3,1017.8 L1876.4,1017.5 L1870.8,1017.0 L1865.5,1016.5 L1860.6,1016.0 L1856.0,1015.3 L1851.7,1014.6 L1847.7,1013.9 L1844.0,1013.1 L1840.7,1012.2 L1837.6,1011.2 L1834.9,1010.2 L1832.5,1009.2 L1830.4,1008.1 L1828.6,1006.9 L1828.2,1005.7Z" fill="url(#gg2)"/>
<path d="M1828.2,429.0 L1830.0,427.0 L1832.9,424.5 L1836.0,422.0 L1838.8,420.0 L1841.6,418.2 L1844.6,416.5 L1847.7,414.9 L1851.1,413.4 L1854.6,411.9 L1858.4,410.5 L1862.3,409.2 L1866.5,407.9 L1870.8,406.7 L1875.3,405.5 L1880.1,404.4 L1885.0,403.3 L1890.1,402.3 L1895.3,401.4 L1900.8,400.5 L1906.4,399.7 L1912.2,398.9 L1918.1,398.2 L1924.2,397.6 L1930.5,397.1 L1936.9,396.6 L1943.5,396.1 L1950.3,395.7 L1957.4,395.4 L1964.7,395.2 L1972.4,395.0 L1980.8,394.9 L1991.4,394.9 L2001.9,394.9 L2010.0,395.0 L2017.3,395.2 L2024.1,395.4 L2030.4,395.7 L2036.3,396.1 L2041.9,396.6 L2047.2,397.1 L2052.1,397.6 L2056.7,398.2 L2061.0,398.9 L2065.0,399.7 L2068.7,400.5 L2072.1,401.4 L2075.1,402.3 L2077.8,403.3 L2080.3,404.4 L2082.3,405.5 L2084.1,406.7 L2084.6,407.9 L2084.6,984.6 L2082.7,986.5 L2079.9,989.1 L2076.7,991.6 L2074.0,993.6 L2071.1,995.4 L2068.2,997.1 L2065.0,998.7 L2061.7,1000.2 L2058.1,1001.6 L2054.4,1003.0 L2050.4,1004.4 L2046.3,1005.7 L2041.9,1006.9 L2037.4,1008.1 L2032.7,1009.2 L2027.8,1010.2 L2022.7,1011.2 L2017.4,1012.2 L2012.0,1013.1 L2006.3,1013.9 L2000.6,1014.6 L1994.6,1015.3 L1988.5,1016.0 L1982.3,1016.5 L1975.8,1017.0 L1969.2,1017.5 L1962.4,1017.8 L1955.4,1018.1 L1948.0,1018.4 L1940.3,1018.5 L1932.0,1018.6 L1921.4,1018.7 L1910.8,1018.6 L1902.7,1018.5 L1895.4,1018.4 L1888.6,1018.1 L1882.3,1017.8 L1876.4,1017.5 L1870.8,1017.0 L1865.5,1016.5 L1860.6,1016.0 L1856.0,1015.3 L1851.7,1014.6 L1847.7,1013.9 L1844.0,1013.1 L1840.7,1012.2 L1837.6,1011.2 L1834.9,1010.2 L1832.5,1009.2 L1830.4,1008.1 L1828.6,1006.9 L1828.2,1005.7Z" fill="url(#rg2)"/>
<path d="M1828.2,429.0 L1830.0,427.0 L1832.9,424.5 L1836.0,422.0 L1838.8,420.0 L1841.6,418.2 L1844.6,416.5 L1847.7,414.9 L1851.1,413.4 L1854.6,411.9 L1858.4,410.5 L1862.3,409.2 L1866.5,407.9 L1870.8,406.7 L1875.3,405.5 L1880.1,404.4 L1885.0,403.3 L1890.1,402.3 L1895.3,401.4 L1900.8,400.5 L1906.4,399.7 L1912.2,398.9 L1918.1,398.2 L1924.2,397.6 L1930.5,397.1 L1936.9,396.6 L1943.5,396.1 L1950.3,395.7 L1957.4,395.4 L1964.7,395.2 L1972.4,395.0 L1980.8,394.9 L1991.4,394.9 L2001.9,394.9 L2010.0,395.0 L2017.3,395.2 L2024.1,395.4 L2030.4,395.7 L2036.3,396.1 L2041.9,396.6 L2047.2,397.1 L2052.1,397.6 L2056.7,398.2 L2061.0,398.9 L2065.0,399.7 L2068.7,400.5 L2072.1,401.4 L2075.1,402.3 L2077.8,403.3 L2080.3,404.4 L2082.3,405.5 L2084.1,406.7 L2084.6,407.9 L2084.6,984.6 L2082.7,986.5 L2079.9,989.1 L2076.7,991.6 L2074.0,993.6 L2071.1,995.4 L2068.2,997.1 L2065.0,998.7 L2061.7,1000.2 L2058.1,1001.6 L2054.4,1003.0 L2050.4,1004.4 L2046.3,1005.7 L2041.9,1006.9 L2037.4,1008.1 L2032.7,1009.2 L2027.8,1010.2 L2022.7,1011.2 L2017.4,1012.2 L2012.0,1013.1 L2006.3,1013.9 L2000.6,1014.6 L1994.6,1015.3 L1988.5,1016.0 L1982.3,1016.5 L1975.8,1017.0 L1969.2,1017.5 L1962.4,1017.8 L1955.4,1018.1 L1948.0,1018.4 L1940.3,1018.5 L1932.0,1018.6 L1921.4,1018.7 L1910.8,1018.6 L1902.7,1018.5 L1895.4,1018.4 L1888.6,1018.1 L1882.3,1017.8 L1876.4,1017.5 L1870.8,1017.0 L1865.5,1016.5 L1860.6,1016.0 L1856.0,1015.3 L1851.7,1014.6 L1847.7,1013.9 L1844.0,1013.1 L1840.7,1012.2 L1837.6,1011.2 L1834.9,1010.2 L1832.5,1009.2 L1830.4,1008.1 L1828.6,1006.9 L1828.2,1005.7Z" fill="url(#vg2)"/>
<path d="M2079.9,424.5 L2082.7,422.0 L2084.6,420.0 L2084.6,418.2 L2084.6,416.5 L2084.6,414.9 L2084.6,413.4 L2084.6,411.9 L2084.6,410.5 L2084.6,409.2 L2084.6,407.9 L2084.1,406.7 L2082.4,405.5 L2080.3,404.4 L2077.8,403.3 L2075.1,402.3 L2072.1,401.4 L2068.7,400.5 L2065.0,399.7 L2061.0,398.9 L2056.7,398.2 L2052.1,397.6 L2047.2,397.0 L2041.9,396.5 L2036.3,396.1 L2030.4,395.7 L2024.1,395.4 L2017.3,395.2 L2010.0,395.0 L2001.9,394.9 L1991.4,394.9 L1980.8,394.9 L1972.4,395.0 L1964.7,395.2 L1957.4,395.4 L1950.3,395.7 L1943.5,396.1 L1936.9,396.5 L1930.5,397.0 L1924.2,397.6 L1918.1,398.2 L1912.2,398.9 L1906.4,399.7 L1900.8,400.5 L1895.3,401.4 L1890.1,402.3 L1885.0,403.3 L1880.1,404.4 L1875.3,405.5 L1870.8,406.7 L1866.5,407.9 L1862.3,409.2 L1858.4,410.5 L1854.6,411.9 L1851.1,413.4 L1847.7,414.9 L1844.6,416.5 L1841.6,418.2 L1838.8,420.0 L1836.0,422.0 L1832.9,424.5 L1830.0,427.0 L1828.2,429.0 L1828.2,430.8 L1828.2,432.5 L1828.2,434.1 L1828.2,435.6 L1828.2,437.1 L1828.2,438.5 L1828.2,439.8 L1828.2,441.1 L1828.6,442.3 L1830.4,443.5 L1832.5,444.6 L1834.9,445.7 L1837.6,446.7 L1840.7,447.6 L1844.0,448.5 L1847.7,449.3 L1851.7,450.1 L1856.0,450.8 L1860.6,451.4 L1865.5,452.0 L1870.8,452.5 L1876.4,452.9 L1882.3,453.3 L1888.6,453.6 L1895.4,453.8 L1902.7,454.0 L1910.8,454.1 L1921.4,454.1 L1932.0,454.1 L1940.3,454.0 L1948.0,453.8 L1955.4,453.6 L1962.4,453.3 L1969.2,452.9 L1975.8,452.5 L1982.3,452.0 L1988.5,451.4 L1994.6,450.8 L2000.6,450.1 L2006.3,449.3 L2012.0,448.5 L2017.4,447.6 L2022.7,446.7 L2027.8,445.7 L2032.7,444.6 L2037.4,443.5 L2041.9,442.3 L2046.3,441.1 L2050.4,439.8 L2054.4,438.5 L2058.1,437.1 L2061.7,435.6 L2065.0,434.1 L2068.2,432.5 L2071.1,430.8 L2074.0,429.0 L2076.7,427.0 L2079.9,424.5Z" fill="url(#tg2)" stroke="#004a08" stroke-width="1" stroke-opacity="0.35"/>
<path d="M1828.2,429.0 L1830.0,427.0 L1832.9,424.5 L1836.0,422.0 L1838.8,420.0 L1841.6,418.2 L1844.6,416.5 L1847.7,414.9 L1851.1,413.4 L1854.6,411.9 L1858.4,410.5 L1862.3,409.2 L1866.5,407.9 L1870.8,406.7 L1875.3,405.5 L1880.1,404.4 L1885.0,403.3 L1890.1,402.3 L1895.3,401.4 L1900.8,400.5 L1906.4,399.7 L1912.2,398.9 L1918.1,398.2 L1924.2,397.6 L1930.5,397.1 L1936.9,396.6 L1943.5,396.1 L1950.3,395.7 L1957.4,395.4 L1964.7,395.2 L1972.4,395.0 L1980.8,394.9 L1991.4,394.9 L2001.9,394.9 L2010.0,395.0 L2017.3,395.2 L2024.1,395.4 L2030.4,395.7 L2036.3,396.1 L2041.9,396.6 L2047.2,397.1 L2052.1,397.6 L2056.7,398.2 L2061.0,398.9 L2065.0,399.7 L2068.7,400.5 L2072.1,401.4 L2075.1,402.3 L2077.8,403.3 L2080.3,404.4 L2082.3,405.5 L2084.1,406.7 L2084.6,407.9 L2084.6,984.6 L2082.7,986.5 L2079.9,989.1 L2076.7,991.6 L2074.0,993.6 L2071.1,995.4 L2068.2,997.1 L2065.0,998.7 L2061.7,1000.2 L2058.1,1001.6 L2054.4,1003.0 L2050.4,1004.4 L2046.3,1005.7 L2041.9,1006.9 L2037.4,1008.1 L2032.7,1009.2 L2027.8,1010.2 L2022.7,1011.2 L2017.4,1012.2 L2012.0,1013.1 L2006.3,1013.9 L2000.6,1014.6 L1994.6,1015.3 L1988.5,1016.0 L1982.3,1016.5 L1975.8,1017.0 L1969.2,1017.5 L1962.4,1017.8 L1955.4,1018.1 L1948.0,1018.4 L1940.3,1018.5 L1932.0,1018.6 L1921.4,1018.7 L1910.8,1018.6 L1902.7,1018.5 L1895.4,1018.4 L1888.6,1018.1 L1882.3,1017.8 L1876.4,1017.5 L1870.8,1017.0 L1865.5,1016.5 L1860.6,1016.0 L1856.0,1015.3 L1851.7,1014.6 L1847.7,1013.9 L1844.0,1013.1 L1840.7,1012.2 L1837.6,1011.2 L1834.9,1010.2 L1832.5,1009.2 L1830.4,1008.1 L1828.6,1006.9 L1828.2,1005.7Z" fill="none" stroke="#004a08" stroke-width="2.2" stroke-opacity="0.8"/>
<linearGradient id="go0" gradientUnits="userSpaceOnUse" x1="688.3" y1="0" x2="944.7" y2="0"><stop offset="0.0" stop-color="#893200"/><stop offset="0.03" stop-color="#913600"/><stop offset="0.06" stop-color="#9d3c00"/><stop offset="0.12" stop-color="#b34700"/><stop offset="0.17" stop-color="#c44f00"/><stop offset="0.25" stop-color="#da5a00"/><stop offset="0.33" stop-color="#ec6300"/><stop offset="0.42" stop-color="#fa6a00"/><stop offset="0.47" stop-color="#fe6c00"/><stop offset="0.55" stop-color="#f96a00"/><stop offset="0.62" stop-color="#ee6400"/><stop offset="0.7" stop-color="#df5c00"/><stop offset="0.78" stop-color="#ce5400"/><stop offset="0.86" stop-color="#bb4b00"/><stop offset="0.92" stop-color="#a94200"/><stop offset="0.97" stop-color="#953800"/><stop offset="1.0" stop-color="#893200"/></linearGradient>
<radialGradient id="ro0" gradientUnits="userSpaceOnUse" cx="812.5" cy="963.3" r="198.9" fx="812.5" fy="963.3" gradientTransform="translate(812.5 963.3) scale(0.5781 1) translate(-812.5 -963.3)"><stop offset="0" stop-color="#ff7a06" stop-opacity="0.5"/><stop offset="0.25" stop-color="#ff7a06" stop-opacity="0.400"/><stop offset="0.55" stop-color="#ff7a06" stop-opacity="0.200"/><stop offset="1" stop-color="#ff7a06" stop-opacity="0"/></radialGradient>
<linearGradient id="vo0" gradientUnits="userSpaceOnUse" x1="0" y1="723.9" x2="0" y2="1144.8"><stop offset="0" stop-color="#000" stop-opacity="0.07"/><stop offset="0.35" stop-color="#000" stop-opacity="0.015"/><stop offset="0.7" stop-color="#000" stop-opacity="0"/><stop offset="1" stop-color="#000" stop-opacity="0.10"/></linearGradient>
<linearGradient id="to0" gradientUnits="userSpaceOnUse" x1="688.3" y1="0" x2="944.7" y2="0"><stop offset="0" stop-color="#b64a00"/><stop offset="0.5" stop-color="#ae4600"/><stop offset="1" stop-color="#a64200"/></linearGradient>
<path d="M688.3,758.0 L690.1,756.0 L693.0,753.5 L696.1,751.0 L698.9,749.0 L701.7,747.2 L704.7,745.5 L707.9,743.9 L711.2,742.4 L714.8,740.9 L718.5,739.5 L722.5,738.2 L726.6,736.9 L730.9,735.7 L735.5,734.5 L740.2,733.4 L745.1,732.3 L750.2,731.3 L755.5,730.4 L760.9,729.5 L766.5,728.7 L772.3,727.9 L778.2,727.2 L784.3,726.6 L790.6,726.0 L797.0,725.5 L803.6,725.1 L810.5,724.7 L817.5,724.4 L824.8,724.2 L832.5,724.0 L840.9,723.9 L851.5,723.9 L862.0,723.9 L870.1,724.0 L877.5,724.2 L884.2,724.4 L890.5,724.7 L896.5,725.1 L902.1,725.5 L907.3,726.0 L912.2,726.6 L916.9,727.2 L921.2,727.9 L925.1,728.7 L928.8,729.5 L932.2,730.4 L935.2,731.3 L938.0,732.3 L940.4,733.4 L942.5,734.5 L944.2,735.7 L944.7,736.9 L944.7,1110.7 L942.9,1112.7 L940.0,1115.2 L936.9,1117.7 L934.1,1119.7 L931.3,1121.5 L928.3,1123.2 L925.1,1124.8 L921.8,1126.3 L918.2,1127.8 L914.5,1129.2 L910.5,1130.5 L906.4,1131.8 L902.1,1133.0 L897.5,1134.2 L892.8,1135.3 L887.9,1136.4 L882.8,1137.4 L877.5,1138.3 L872.1,1139.2 L866.5,1140.0 L860.7,1140.8 L854.8,1141.5 L848.7,1142.1 L842.4,1142.7 L836.0,1143.2 L829.4,1143.6 L822.5,1144.0 L815.5,1144.3 L808.2,1144.5 L800.5,1144.7 L792.1,1144.8 L781.5,1144.8 L771.0,1144.8 L762.9,1144.7 L755.5,1144.5 L748.8,1144.3 L742.5,1144.0 L736.5,1143.6 L730.9,1143.2 L725.7,1142.7 L720.8,1142.1 L716.1,1141.5 L711.8,1140.8 L707.9,1140.0 L704.2,1139.2 L700.8,1138.3 L697.8,1137.4 L695.0,1136.4 L692.6,1135.3 L690.5,1134.2 L688.8,1133.0 L688.3,1131.8Z" fill="url(#go0)"/>
<path d="M688.3,758.0 L690.1,756.0 L693.0,753.5 L696.1,751.0 L698.9,749.0 L701.7,747.2 L704.7,745.5 L707.9,743.9 L711.2,742.4 L714.8,740.9 L718.5,739.5 L722.5,738.2 L726.6,736.9 L730.9,735.7 L735.5,734.5 L740.2,733.4 L745.1,732.3 L750.2,731.3 L755.5,730.4 L760.9,729.5 L766.5,728.7 L772.3,727.9 L778.2,727.2 L784.3,726.6 L790.6,726.0 L797.0,725.5 L803.6,725.1 L810.5,724.7 L817.5,724.4 L824.8,724.2 L832.5,724.0 L840.9,723.9 L851.5,723.9 L862.0,723.9 L870.1,724.0 L877.5,724.2 L884.2,724.4 L890.5,724.7 L896.5,725.1 L902.1,725.5 L907.3,726.0 L912.2,726.6 L916.9,727.2 L921.2,727.9 L925.1,728.7 L928.8,729.5 L932.2,730.4 L935.2,731.3 L938.0,732.3 L940.4,733.4 L942.5,734.5 L944.2,735.7 L944.7,736.9 L944.7,1110.7 L942.9,1112.7 L940.0,1115.2 L936.9,1117.7 L934.1,1119.7 L931.3,1121.5 L928.3,1123.2 L925.1,1124.8 L921.8,1126.3 L918.2,1127.8 L914.5,1129.2 L910.5,1130.5 L906.4,1131.8 L902.1,1133.0 L897.5,1134.2 L892.8,1135.3 L887.9,1136.4 L882.8,1137.4 L877.5,1138.3 L872.1,1139.2 L866.5,1140.0 L860.7,1140.8 L854.8,1141.5 L848.7,1142.1 L842.4,1142.7 L836.0,1143.2 L829.4,1143.6 L822.5,1144.0 L815.5,1144.3 L808.2,1144.5 L800.5,1144.7 L792.1,1144.8 L781.5,1144.8 L771.0,1144.8 L762.9,1144.7 L755.5,1144.5 L748.8,1144.3 L742.5,1144.0 L736.5,1143.6 L730.9,1143.2 L725.7,1142.7 L720.8,1142.1 L716.1,1141.5 L711.8,1140.8 L707.9,1140.0 L704.2,1139.2 L700.8,1138.3 L697.8,1137.4 L695.0,1136.4 L692.6,1135.3 L690.5,1134.2 L688.8,1133.0 L688.3,1131.8Z" fill="url(#ro0)"/>
<path d="M688.3,758.0 L690.1,756.0 L693.0,753.5 L696.1,751.0 L698.9,749.0 L701.7,747.2 L704.7,745.5 L707.9,743.9 L711.2,742.4 L714.8,740.9 L718.5,739.5 L722.5,738.2 L726.6,736.9 L730.9,735.7 L735.5,734.5 L740.2,733.4 L745.1,732.3 L750.2,731.3 L755.5,730.4 L760.9,729.5 L766.5,728.7 L772.3,727.9 L778.2,727.2 L784.3,726.6 L790.6,726.0 L797.0,725.5 L803.6,725.1 L810.5,724.7 L817.5,724.4 L824.8,724.2 L832.5,724.0 L840.9,723.9 L851.5,723.9 L862.0,723.9 L870.1,724.0 L877.5,724.2 L884.2,724.4 L890.5,724.7 L896.5,725.1 L902.1,725.5 L907.3,726.0 L912.2,726.6 L916.9,727.2 L921.2,727.9 L925.1,728.7 L928.8,729.5 L932.2,730.4 L935.2,731.3 L938.0,732.3 L940.4,733.4 L942.5,734.5 L944.2,735.7 L944.7,736.9 L944.7,1110.7 L942.9,1112.7 L940.0,1115.2 L936.9,1117.7 L934.1,1119.7 L931.3,1121.5 L928.3,1123.2 L925.1,1124.8 L921.8,1126.3 L918.2,1127.8 L914.5,1129.2 L910.5,1130.5 L906.4,1131.8 L902.1,1133.0 L897.5,1134.2 L892.8,1135.3 L887.9,1136.4 L882.8,1137.4 L877.5,1138.3 L872.1,1139.2 L866.5,1140.0 L860.7,1140.8 L854.8,1141.5 L848.7,1142.1 L842.4,1142.7 L836.0,1143.2 L829.4,1143.6 L822.5,1144.0 L815.5,1144.3 L808.2,1144.5 L800.5,1144.7 L792.1,1144.8 L781.5,1144.8 L771.0,1144.8 L762.9,1144.7 L755.5,1144.5 L748.8,1144.3 L742.5,1144.0 L736.5,1143.6 L730.9,1143.2 L725.7,1142.7 L720.8,1142.1 L716.1,1141.5 L711.8,1140.8 L707.9,1140.0 L704.2,1139.2 L700.8,1138.3 L697.8,1137.4 L695.0,1136.4 L692.6,1135.3 L690.5,1134.2 L688.8,1133.0 L688.3,1131.8Z" fill="url(#vo0)"/>
<path d="M940.0,753.5 L942.9,751.0 L944.7,749.0 L944.7,747.2 L944.7,745.5 L944.7,743.9 L944.7,742.4 L944.7,740.9 L944.7,739.5 L944.7,738.2 L944.7,736.9 L944.3,735.7 L942.5,734.5 L940.4,733.4 L938.0,732.3 L935.2,731.3 L932.2,730.4 L928.8,729.5 L925.1,728.7 L921.2,727.9 L916.9,727.2 L912.2,726.6 L907.3,726.0 L902.1,725.5 L896.5,725.1 L890.5,724.7 L884.2,724.4 L877.5,724.2 L870.1,724.0 L862.0,723.9 L851.5,723.9 L840.9,723.9 L832.5,724.0 L824.8,724.2 L817.5,724.4 L810.5,724.7 L803.7,725.1 L797.0,725.5 L790.6,726.0 L784.3,726.6 L778.2,727.2 L772.3,727.9 L766.5,728.7 L760.9,729.5 L755.5,730.4 L750.2,731.3 L745.1,732.3 L740.2,733.4 L735.5,734.5 L730.9,735.7 L726.6,736.9 L722.4,738.2 L718.5,739.5 L714.8,740.9 L711.2,742.4 L707.9,743.9 L704.7,745.5 L701.7,747.2 L698.9,749.0 L696.1,751.0 L693.0,753.5 L690.1,756.0 L688.3,758.0 L688.3,759.8 L688.3,761.5 L688.3,763.1 L688.3,764.6 L688.3,766.1 L688.3,767.5 L688.3,768.8 L688.3,770.1 L688.7,771.3 L690.5,772.5 L692.6,773.6 L695.0,774.7 L697.8,775.7 L700.8,776.6 L704.2,777.5 L707.9,778.3 L711.8,779.1 L716.1,779.8 L720.8,780.4 L725.7,781.0 L730.9,781.5 L736.5,781.9 L742.5,782.3 L748.8,782.6 L755.5,782.8 L762.9,783.0 L771.0,783.1 L781.5,783.1 L792.1,783.1 L800.5,783.0 L808.2,782.8 L815.5,782.6 L822.5,782.3 L829.3,781.9 L836.0,781.5 L842.4,781.0 L848.7,780.4 L854.8,779.8 L860.7,779.1 L866.5,778.3 L872.1,777.5 L877.5,776.6 L882.8,775.7 L887.9,774.7 L892.8,773.6 L897.5,772.5 L902.1,771.3 L906.4,770.1 L910.6,768.8 L914.5,767.5 L918.2,766.1 L921.8,764.6 L925.1,763.1 L928.3,761.5 L931.3,759.8 L934.1,758.0 L936.9,756.0 L940.0,753.5Z" fill="url(#to0)" stroke="#6a2200" stroke-width="1" stroke-opacity="0.35"/>
<path d="M688.3,758.0 L690.1,756.0 L693.0,753.5 L696.1,751.0 L698.9,749.0 L701.7,747.2 L704.7,745.5 L707.9,743.9 L711.2,742.4 L714.8,740.9 L718.5,739.5 L722.5,738.2 L726.6,736.9 L730.9,735.7 L735.5,734.5 L740.2,733.4 L745.1,732.3 L750.2,731.3 L755.5,730.4 L760.9,729.5 L766.5,728.7 L772.3,727.9 L778.2,727.2 L784.3,726.6 L790.6,726.0 L797.0,725.5 L803.6,725.1 L810.5,724.7 L817.5,724.4 L824.8,724.2 L832.5,724.0 L840.9,723.9 L851.5,723.9 L862.0,723.9 L870.1,724.0 L877.5,724.2 L884.2,724.4 L890.5,724.7 L896.5,725.1 L902.1,725.5 L907.3,726.0 L912.2,726.6 L916.9,727.2 L921.2,727.9 L925.1,728.7 L928.8,729.5 L932.2,730.4 L935.2,731.3 L938.0,732.3 L940.4,733.4 L942.5,734.5 L944.2,735.7 L944.7,736.9 L944.7,1110.7 L942.9,1112.7 L940.0,1115.2 L936.9,1117.7 L934.1,1119.7 L931.3,1121.5 L928.3,1123.2 L925.1,1124.8 L921.8,1126.3 L918.2,1127.8 L914.5,1129.2 L910.5,1130.5 L906.4,1131.8 L902.1,1133.0 L897.5,1134.2 L892.8,1135.3 L887.9,1136.4 L882.8,1137.4 L877.5,1138.3 L872.1,1139.2 L866.5,1140.0 L860.7,1140.8 L854.8,1141.5 L848.7,1142.1 L842.4,1142.7 L836.0,1143.2 L829.4,1143.6 L822.5,1144.0 L815.5,1144.3 L808.2,1144.5 L800.5,1144.7 L792.1,1144.8 L781.5,1144.8 L771.0,1144.8 L762.9,1144.7 L755.5,1144.5 L748.8,1144.3 L742.5,1144.0 L736.5,1143.6 L730.9,1143.2 L725.7,1142.7 L720.8,1142.1 L716.1,1141.5 L711.8,1140.8 L707.9,1140.0 L704.2,1139.2 L700.8,1138.3 L697.8,1137.4 L695.0,1136.4 L692.6,1135.3 L690.5,1134.2 L688.8,1133.0 L688.3,1131.8Z" fill="none" stroke="#6a2200" stroke-width="2.2" stroke-opacity="0.8"/>
<linearGradient id="go1" gradientUnits="userSpaceOnUse" x1="1175.3" y1="0" x2="1431.7" y2="0"><stop offset="0.0" stop-color="#893200"/><stop offset="0.03" stop-color="#913600"/><stop offset="0.06" stop-color="#9d3c00"/><stop offset="0.12" stop-color="#b34700"/><stop offset="0.17" stop-color="#c44f00"/><stop offset="0.25" stop-color="#da5a00"/><stop offset="0.33" stop-color="#ec6300"/><stop offset="0.42" stop-color="#fa6a00"/><stop offset="0.47" stop-color="#fe6c00"/><stop offset="0.55" stop-color="#f96a00"/><stop offset="0.62" stop-color="#ee6400"/><stop offset="0.7" stop-color="#df5c00"/><stop offset="0.78" stop-color="#ce5400"/><stop offset="0.86" stop-color="#bb4b00"/><stop offset="0.92" stop-color="#a94200"/><stop offset="0.97" stop-color="#953800"/><stop offset="1.0" stop-color="#893200"/></linearGradient>
<radialGradient id="ro1" gradientUnits="userSpaceOnUse" cx="1299.5" cy="805.2" r="406.0" fx="1299.5" fy="805.2" gradientTransform="translate(1299.5 805.2) scale(0.2832 1) translate(-1299.5 -805.2)"><stop offset="0" stop-color="#ff7a06" stop-opacity="0.5"/><stop offset="0.25" stop-color="#ff7a06" stop-opacity="0.400"/><stop offset="0.55" stop-color="#ff7a06" stop-opacity="0.200"/><stop offset="1" stop-color="#ff7a06" stop-opacity="0"/></radialGradient>
<linearGradient id="vo1" gradientUnits="userSpaceOnUse" x1="0" y1="347.4" x2="0" y2="1144.8"><stop offset="0" stop-color="#000" stop-opacity="0.07"/><stop offset="0.35" stop-color="#000" stop-opacity="0.015"/><stop offset="0.7" stop-color="#000" stop-opacity="0"/><stop offset="1" stop-color="#000" stop-opacity="0.10"/></linearGradient>
<linearGradient id="to1" gradientUnits="userSpaceOnUse" x1="1175.3" y1="0" x2="1431.7" y2="0"><stop offset="0" stop-color="#b64a00"/><stop offset="0.5" stop-color="#ae4600"/><stop offset="1" stop-color="#a64200"/></linearGradient>
<path d="M1175.3,381.5 L1177.2,379.5 L1180.0,377.0 L1183.1,374.5 L1185.9,372.5 L1188.7,370.7 L1191.7,369.0 L1194.9,367.4 L1198.2,365.9 L1201.8,364.4 L1205.5,363.0 L1209.5,361.7 L1213.6,360.4 L1217.9,359.2 L1222.5,358.0 L1227.2,356.9 L1232.1,355.8 L1237.2,354.8 L1242.5,353.9 L1247.9,353.0 L1253.5,352.2 L1259.3,351.4 L1265.2,350.7 L1271.3,350.1 L1277.6,349.6 L1284.0,349.1 L1290.7,348.6 L1297.5,348.2 L1304.5,347.9 L1311.8,347.7 L1319.5,347.5 L1327.9,347.4 L1338.5,347.4 L1349.0,347.4 L1357.2,347.5 L1364.5,347.7 L1371.2,347.9 L1377.5,348.2 L1383.5,348.6 L1389.1,349.1 L1394.3,349.6 L1399.2,350.1 L1403.9,350.7 L1408.2,351.4 L1412.2,352.2 L1415.8,353.0 L1419.2,353.9 L1422.2,354.8 L1425.0,355.8 L1427.4,356.9 L1429.5,358.0 L1431.2,359.2 L1431.7,360.4 L1431.7,1110.7 L1429.8,1112.7 L1427.0,1115.2 L1423.9,1117.7 L1421.1,1119.7 L1418.3,1121.5 L1415.3,1123.2 L1412.1,1124.8 L1408.8,1126.3 L1405.2,1127.8 L1401.5,1129.2 L1397.5,1130.5 L1393.4,1131.8 L1389.1,1133.0 L1384.5,1134.2 L1379.8,1135.3 L1374.9,1136.4 L1369.8,1137.4 L1364.5,1138.3 L1359.1,1139.2 L1353.5,1140.0 L1347.7,1140.8 L1341.8,1141.5 L1335.7,1142.1 L1329.4,1142.7 L1323.0,1143.2 L1316.3,1143.6 L1309.5,1144.0 L1302.5,1144.3 L1295.2,1144.5 L1287.5,1144.7 L1279.1,1144.8 L1268.5,1144.8 L1258.0,1144.8 L1249.8,1144.7 L1242.5,1144.5 L1235.8,1144.3 L1229.5,1144.0 L1223.5,1143.6 L1217.9,1143.2 L1212.7,1142.7 L1207.8,1142.1 L1203.1,1141.5 L1198.8,1140.8 L1194.8,1140.0 L1191.2,1139.2 L1187.8,1138.3 L1184.8,1137.4 L1182.0,1136.4 L1179.6,1135.3 L1177.5,1134.2 L1175.8,1133.0 L1175.3,1131.8Z" fill="url(#go1)"/>
<path d="M1175.3,381.5 L1177.2,379.5 L1180.0,377.0 L1183.1,374.5 L1185.9,372.5 L1188.7,370.7 L1191.7,369.0 L1194.9,367.4 L1198.2,365.9 L1201.8,364.4 L1205.5,363.0 L1209.5,361.7 L1213.6,360.4 L1217.9,359.2 L1222.5,358.0 L1227.2,356.9 L1232.1,355.8 L1237.2,354.8 L1242.5,353.9 L1247.9,353.0 L1253.5,352.2 L1259.3,351.4 L1265.2,350.7 L1271.3,350.1 L1277.6,349.6 L1284.0,349.1 L1290.7,348.6 L1297.5,348.2 L1304.5,347.9 L1311.8,347.7 L1319.5,347.5 L1327.9,347.4 L1338.5,347.4 L1349.0,347.4 L1357.2,347.5 L1364.5,347.7 L1371.2,347.9 L1377.5,348.2 L1383.5,348.6 L1389.1,349.1 L1394.3,349.6 L1399.2,350.1 L1403.9,350.7 L1408.2,351.4 L1412.2,352.2 L1415.8,353.0 L1419.2,353.9 L1422.2,354.8 L1425.0,355.8 L1427.4,356.9 L1429.5,358.0 L1431.2,359.2 L1431.7,360.4 L1431.7,1110.7 L1429.8,1112.7 L1427.0,1115.2 L1423.9,1117.7 L1421.1,1119.7 L1418.3,1121.5 L1415.3,1123.2 L1412.1,1124.8 L1408.8,1126.3 L1405.2,1127.8 L1401.5,1129.2 L1397.5,1130.5 L1393.4,1131.8 L1389.1,1133.0 L1384.5,1134.2 L1379.8,1135.3 L1374.9,1136.4 L1369.8,1137.4 L1364.5,1138.3 L1359.1,1139.2 L1353.5,1140.0 L1347.7,1140.8 L1341.8,1141.5 L1335.7,1142.1 L1329.4,1142.7 L1323.0,1143.2 L1316.3,1143.6 L1309.5,1144.0 L1302.5,1144.3 L1295.2,1144.5 L1287.5,1144.7 L1279.1,1144.8 L1268.5,1144.8 L1258.0,1144.8 L1249.8,1144.7 L1242.5,1144.5 L1235.8,1144.3 L1229.5,1144.0 L1223.5,1143.6 L1217.9,1143.2 L1212.7,1142.7 L1207.8,1142.1 L1203.1,1141.5 L1198.8,1140.8 L1194.8,1140.0 L1191.2,1139.2 L1187.8,1138.3 L1184.8,1137.4 L1182.0,1136.4 L1179.6,1135.3 L1177.5,1134.2 L1175.8,1133.0 L1175.3,1131.8Z" fill="url(#ro1)"/>
<path d="M1175.3,381.5 L1177.2,379.5 L1180.0,377.0 L1183.1,374.5 L1185.9,372.5 L1188.7,370.7 L1191.7,369.0 L1194.9,367.4 L1198.2,365.9 L1201.8,364.4 L1205.5,363.0 L1209.5,361.7 L1213.6,360.4 L1217.9,359.2 L1222.5,358.0 L1227.2,356.9 L1232.1,355.8 L1237.2,354.8 L1242.5,353.9 L1247.9,353.0 L1253.5,352.2 L1259.3,351.4 L1265.2,350.7 L1271.3,350.1 L1277.6,349.6 L1284.0,349.1 L1290.7,348.6 L1297.5,348.2 L1304.5,347.9 L1311.8,347.7 L1319.5,347.5 L1327.9,347.4 L1338.5,347.4 L1349.0,347.4 L1357.2,347.5 L1364.5,347.7 L1371.2,347.9 L1377.5,348.2 L1383.5,348.6 L1389.1,349.1 L1394.3,349.6 L1399.2,350.1 L1403.9,350.7 L1408.2,351.4 L1412.2,352.2 L1415.8,353.0 L1419.2,353.9 L1422.2,354.8 L1425.0,355.8 L1427.4,356.9 L1429.5,358.0 L1431.2,359.2 L1431.7,360.4 L1431.7,1110.7 L1429.8,1112.7 L1427.0,1115.2 L1423.9,1117.7 L1421.1,1119.7 L1418.3,1121.5 L1415.3,1123.2 L1412.1,1124.8 L1408.8,1126.3 L1405.2,1127.8 L1401.5,1129.2 L1397.5,1130.5 L1393.4,1131.8 L1389.1,1133.0 L1384.5,1134.2 L1379.8,1135.3 L1374.9,1136.4 L1369.8,1137.4 L1364.5,1138.3 L1359.1,1139.2 L1353.5,1140.0 L1347.7,1140.8 L1341.8,1141.5 L1335.7,1142.1 L1329.4,1142.7 L1323.0,1143.2 L1316.3,1143.6 L1309.5,1144.0 L1302.5,1144.3 L1295.2,1144.5 L1287.5,1144.7 L1279.1,1144.8 L1268.5,1144.8 L1258.0,1144.8 L1249.8,1144.7 L1242.5,1144.5 L1235.8,1144.3 L1229.5,1144.0 L1223.5,1143.6 L1217.9,1143.2 L1212.7,1142.7 L1207.8,1142.1 L1203.1,1141.5 L1198.8,1140.8 L1194.8,1140.0 L1191.2,1139.2 L1187.8,1138.3 L1184.8,1137.4 L1182.0,1136.4 L1179.6,1135.3 L1177.5,1134.2 L1175.8,1133.0 L1175.3,1131.8Z" fill="url(#vo1)"/>
<path d="M1427.0,377.0 L1429.9,374.5 L1431.7,372.5 L1431.7,370.7 L1431.7,369.0 L1431.7,367.4 L1431.7,365.9 L1431.7,364.4 L1431.7,363.0 L1431.7,361.7 L1431.7,360.4 L1431.3,359.2 L1429.5,358.0 L1427.4,356.9 L1425.0,355.8 L1422.2,354.8 L1419.2,353.9 L1415.8,353.0 L1412.1,352.2 L1408.2,351.4 L1403.9,350.7 L1399.2,350.1 L1394.3,349.5 L1389.1,349.0 L1383.5,348.6 L1377.5,348.2 L1371.2,347.9 L1364.5,347.7 L1357.1,347.5 L1349.0,347.4 L1338.5,347.4 L1327.9,347.4 L1319.5,347.5 L1311.8,347.7 L1304.5,347.9 L1297.5,348.2 L1290.7,348.6 L1284.0,349.0 L1277.6,349.5 L1271.3,350.1 L1265.2,350.7 L1259.3,351.4 L1253.5,352.2 L1247.9,353.0 L1242.5,353.9 L1237.2,354.8 L1232.1,355.8 L1227.2,356.9 L1222.5,358.0 L1217.9,359.2 L1213.6,360.4 L1209.4,361.7 L1205.5,363.0 L1201.8,364.4 L1198.2,365.9 L1194.9,367.4 L1191.7,369.0 L1188.7,370.7 L1185.9,372.5 L1183.1,374.5 L1180.0,377.0 L1177.1,379.5 L1175.3,381.5 L1175.3,383.3 L1175.3,385.0 L1175.3,386.6 L1175.3,388.1 L1175.3,389.6 L1175.3,391.0 L1175.3,392.3 L1175.3,393.6 L1175.7,394.8 L1177.5,396.0 L1179.6,397.1 L1182.0,398.2 L1184.8,399.2 L1187.8,400.1 L1191.2,401.0 L1194.9,401.8 L1198.8,402.6 L1203.1,403.3 L1207.8,403.9 L1212.7,404.5 L1217.9,405.0 L1223.5,405.4 L1229.5,405.8 L1235.8,406.1 L1242.5,406.3 L1249.9,406.5 L1258.0,406.6 L1268.5,406.6 L1279.1,406.6 L1287.5,406.5 L1295.2,406.3 L1302.5,406.1 L1309.5,405.8 L1316.3,405.4 L1323.0,405.0 L1329.4,404.5 L1335.7,403.9 L1341.8,403.3 L1347.7,402.6 L1353.5,401.8 L1359.1,401.0 L1364.5,400.1 L1369.8,399.2 L1374.9,398.2 L1379.8,397.1 L1384.5,396.0 L1389.1,394.8 L1393.4,393.6 L1397.6,392.3 L1401.5,391.0 L1405.2,389.6 L1408.8,388.1 L1412.1,386.6 L1415.3,385.0 L1418.3,383.3 L1421.1,381.5 L1423.9,379.5 L1427.0,377.0Z" fill="url(#to1)" stroke="#6a2200" stroke-width="1" stroke-opacity="0.35"/>
<path d="M1175.3,381.5 L1177.2,379.5 L1180.0,377.0 L1183.1,374.5 L1185.9,372.5 L1188.7,370.7 L1191.7,369.0 L1194.9,367.4 L1198.2,365.9 L1201.8,364.4 L1205.5,363.0 L1209.5,361.7 L1213.6,360.4 L1217.9,359.2 L1222.5,358.0 L1227.2,356.9 L1232.1,355.8 L1237.2,354.8 L1242.5,353.9 L1247.9,353.0 L1253.5,352.2 L1259.3,351.4 L1265.2,350.7 L1271.3,350.1 L1277.6,349.6 L1284.0,349.1 L1290.7,348.6 L1297.5,348.2 L1304.5,347.9 L1311.8,347.7 L1319.5,347.5 L1327.9,347.4 L1338.5,347.4 L1349.0,347.4 L1357.2,347.5 L1364.5,347.7 L1371.2,347.9 L1377.5,348.2 L1383.5,348.6 L1389.1,349.1 L1394.3,349.6 L1399.2,350.1 L1403.9,350.7 L1408.2,351.4 L1412.2,352.2 L1415.8,353.0 L1419.2,353.9 L1422.2,354.8 L1425.0,355.8 L1427.4,356.9 L1429.5,358.0 L1431.2,359.2 L1431.7,360.4 L1431.7,1110.7 L1429.8,1112.7 L1427.0,1115.2 L1423.9,1117.7 L1421.1,1119.7 L1418.3,1121.5 L1415.3,1123.2 L1412.1,1124.8 L1408.8,1126.3 L1405.2,1127.8 L1401.5,1129.2 L1397.5,1130.5 L1393.4,1131.8 L1389.1,1133.0 L1384.5,1134.2 L1379.8,1135.3 L1374.9,1136.4 L1369.8,1137.4 L1364.5,1138.3 L1359.1,1139.2 L1353.5,1140.0 L1347.7,1140.8 L1341.8,1141.5 L1335.7,1142.1 L1329.4,1142.7 L1323.0,1143.2 L1316.3,1143.6 L1309.5,1144.0 L1302.5,1144.3 L1295.2,1144.5 L1287.5,1144.7 L1279.1,1144.8 L1268.5,1144.8 L1258.0,1144.8 L1249.8,1144.7 L1242.5,1144.5 L1235.8,1144.3 L1229.5,1144.0 L1223.5,1143.6 L1217.9,1143.2 L1212.7,1142.7 L1207.8,1142.1 L1203.1,1141.5 L1198.8,1140.8 L1194.8,1140.0 L1191.2,1139.2 L1187.8,1138.3 L1184.8,1137.4 L1182.0,1136.4 L1179.6,1135.3 L1177.5,1134.2 L1175.8,1133.0 L1175.3,1131.8Z" fill="none" stroke="#6a2200" stroke-width="2.2" stroke-opacity="0.8"/>
<linearGradient id="go2" gradientUnits="userSpaceOnUse" x1="1662.3" y1="0" x2="1918.7" y2="0"><stop offset="0.0" stop-color="#893200"/><stop offset="0.03" stop-color="#913600"/><stop offset="0.06" stop-color="#9d3c00"/><stop offset="0.12" stop-color="#b34700"/><stop offset="0.17" stop-color="#c44f00"/><stop offset="0.25" stop-color="#da5a00"/><stop offset="0.33" stop-color="#ec6300"/><stop offset="0.42" stop-color="#fa6a00"/><stop offset="0.47" stop-color="#fe6c00"/><stop offset="0.55" stop-color="#f96a00"/><stop offset="0.62" stop-color="#ee6400"/><stop offset="0.7" stop-color="#df5c00"/><stop offset="0.78" stop-color="#ce5400"/><stop offset="0.86" stop-color="#bb4b00"/><stop offset="0.92" stop-color="#a94200"/><stop offset="0.97" stop-color="#953800"/><stop offset="1.0" stop-color="#893200"/></linearGradient>
<radialGradient id="ro2" gradientUnits="userSpaceOnUse" cx="1786.5" cy="865.0" r="327.6" fx="1786.5" fy="865.0" gradientTransform="translate(1786.5 865.0) scale(0.3510 1) translate(-1786.5 -865.0)"><stop offset="0" stop-color="#ff7a06" stop-opacity="0.5"/><stop offset="0.25" stop-color="#ff7a06" stop-opacity="0.400"/><stop offset="0.55" stop-color="#ff7a06" stop-opacity="0.200"/><stop offset="1" stop-color="#ff7a06" stop-opacity="0"/></radialGradient>
<linearGradient id="vo2" gradientUnits="userSpaceOnUse" x1="0" y1="489.9" x2="0" y2="1144.8"><stop offset="0" stop-color="#000" stop-opacity="0.07"/><stop offset="0.35" stop-color="#000" stop-opacity="0.015"/><stop offset="0.7" stop-color="#000" stop-opacity="0"/><stop offset="1" stop-color="#000" stop-opacity="0.10"/></linearGradient>
<linearGradient id="to2" gradientUnits="userSpaceOnUse" x1="1662.3" y1="0" x2="1918.7" y2="0"><stop offset="0" stop-color="#b64a00"/><stop offset="0.5" stop-color="#ae4600"/><stop offset="1" stop-color="#a64200"/></linearGradient>
<path d="M1662.3,524.0 L1664.2,522.0 L1667.0,519.5 L1670.1,517.0 L1672.9,515.0 L1675.7,513.2 L1678.7,511.5 L1681.9,509.9 L1685.2,508.4 L1688.8,506.9 L1692.5,505.5 L1696.5,504.2 L1700.6,502.9 L1704.9,501.7 L1709.5,500.5 L1714.2,499.4 L1719.1,498.3 L1724.2,497.3 L1729.5,496.4 L1734.9,495.5 L1740.5,494.7 L1746.3,493.9 L1752.2,493.2 L1758.3,492.6 L1764.6,492.1 L1771.0,491.6 L1777.7,491.1 L1784.5,490.7 L1791.5,490.4 L1798.8,490.2 L1806.5,490.0 L1814.9,489.9 L1825.5,489.9 L1836.0,489.9 L1844.2,490.0 L1851.5,490.2 L1858.2,490.4 L1864.5,490.7 L1870.5,491.1 L1876.1,491.6 L1881.3,492.1 L1886.2,492.6 L1890.9,493.2 L1895.2,493.9 L1899.2,494.7 L1902.8,495.5 L1906.2,496.4 L1909.2,497.3 L1912.0,498.3 L1914.4,499.4 L1916.5,500.5 L1918.2,501.7 L1918.7,502.9 L1918.7,1110.7 L1916.8,1112.7 L1914.0,1115.2 L1910.9,1117.7 L1908.1,1119.7 L1905.3,1121.5 L1902.3,1123.2 L1899.1,1124.8 L1895.8,1126.3 L1892.2,1127.8 L1888.5,1129.2 L1884.5,1130.5 L1880.4,1131.8 L1876.1,1133.0 L1871.5,1134.2 L1866.8,1135.3 L1861.9,1136.4 L1856.8,1137.4 L1851.5,1138.3 L1846.1,1139.2 L1840.5,1140.0 L1834.7,1140.8 L1828.8,1141.5 L1822.7,1142.1 L1816.4,1142.7 L1810.0,1143.2 L1803.3,1143.6 L1796.5,1144.0 L1789.5,1144.3 L1782.2,1144.5 L1774.5,1144.7 L1766.1,1144.8 L1755.5,1144.8 L1745.0,1144.8 L1736.8,1144.7 L1729.5,1144.5 L1722.8,1144.3 L1716.5,1144.0 L1710.5,1143.6 L1704.9,1143.2 L1699.7,1142.7 L1694.8,1142.1 L1690.1,1141.5 L1685.8,1140.8 L1681.8,1140.0 L1678.2,1139.2 L1674.8,1138.3 L1671.8,1137.4 L1669.0,1136.4 L1666.6,1135.3 L1664.5,1134.2 L1662.8,1133.0 L1662.3,1131.8Z" fill="url(#go2)"/>
<path d="M1662.3,524.0 L1664.2,522.0 L1667.0,519.5 L1670.1,517.0 L1672.9,515.0 L1675.7,513.2 L1678.7,511.5 L1681.9,509.9 L1685.2,508.4 L1688.8,506.9 L1692.5,505.5 L1696.5,504.2 L1700.6,502.9 L1704.9,501.7 L1709.5,500.5 L1714.2,499.4 L1719.1,498.3 L1724.2,497.3 L1729.5,496.4 L1734.9,495.5 L1740.5,494.7 L1746.3,493.9 L1752.2,493.2 L1758.3,492.6 L1764.6,492.1 L1771.0,491.6 L1777.7,491.1 L1784.5,490.7 L1791.5,490.4 L1798.8,490.2 L1806.5,490.0 L1814.9,489.9 L1825.5,489.9 L1836.0,489.9 L1844.2,490.0 L1851.5,490.2 L1858.2,490.4 L1864.5,490.7 L1870.5,491.1 L1876.1,491.6 L1881.3,492.1 L1886.2,492.6 L1890.9,493.2 L1895.2,493.9 L1899.2,494.7 L1902.8,495.5 L1906.2,496.4 L1909.2,497.3 L1912.0,498.3 L1914.4,499.4 L1916.5,500.5 L1918.2,501.7 L1918.7,502.9 L1918.7,1110.7 L1916.8,1112.7 L1914.0,1115.2 L1910.9,1117.7 L1908.1,1119.7 L1905.3,1121.5 L1902.3,1123.2 L1899.1,1124.8 L1895.8,1126.3 L1892.2,1127.8 L1888.5,1129.2 L1884.5,1130.5 L1880.4,1131.8 L1876.1,1133.0 L1871.5,1134.2 L1866.8,1135.3 L1861.9,1136.4 L1856.8,1137.4 L1851.5,1138.3 L1846.1,1139.2 L1840.5,1140.0 L1834.7,1140.8 L1828.8,1141.5 L1822.7,1142.1 L1816.4,1142.7 L1810.0,1143.2 L1803.3,1143.6 L1796.5,1144.0 L1789.5,1144.3 L1782.2,1144.5 L1774.5,1144.7 L1766.1,1144.8 L1755.5,1144.8 L1745.0,1144.8 L1736.8,1144.7 L1729.5,1144.5 L1722.8,1144.3 L1716.5,1144.0 L1710.5,1143.6 L1704.9,1143.2 L1699.7,1142.7 L1694.8,1142.1 L1690.1,1141.5 L1685.8,1140.8 L1681.8,1140.0 L1678.2,1139.2 L1674.8,1138.3 L1671.8,1137.4 L1669.0,1136.4 L1666.6,1135.3 L1664.5,1134.2 L1662.8,1133.0 L1662.3,1131.8Z" fill="url(#ro2)"/>
<path d="M1662.3,524.0 L1664.2,522.0 L1667.0,519.5 L1670.1,517.0 L1672.9,515.0 L1675.7,513.2 L1678.7,511.5 L1681.9,509.9 L1685.2,508.4 L1688.8,506.9 L1692.5,505.5 L1696.5,504.2 L1700.6,502.9 L1704.9,501.7 L1709.5,500.5 L1714.2,499.4 L1719.1,498.3 L1724.2,497.3 L1729.5,496.4 L1734.9,495.5 L1740.5,494.7 L1746.3,493.9 L1752.2,493.2 L1758.3,492.6 L1764.6,492.1 L1771.0,491.6 L1777.7,491.1 L1784.5,490.7 L1791.5,490.4 L1798.8,490.2 L1806.5,490.0 L1814.9,489.9 L1825.5,489.9 L1836.0,489.9 L1844.2,490.0 L1851.5,490.2 L1858.2,490.4 L1864.5,490.7 L1870.5,491.1 L1876.1,491.6 L1881.3,492.1 L1886.2,492.6 L1890.9,493.2 L1895.2,493.9 L1899.2,494.7 L1902.8,495.5 L1906.2,496.4 L1909.2,497.3 L1912.0,498.3 L1914.4,499.4 L1916.5,500.5 L1918.2,501.7 L1918.7,502.9 L1918.7,1110.7 L1916.8,1112.7 L1914.0,1115.2 L1910.9,1117.7 L1908.1,1119.7 L1905.3,1121.5 L1902.3,1123.2 L1899.1,1124.8 L1895.8,1126.3 L1892.2,1127.8 L1888.5,1129.2 L1884.5,1130.5 L1880.4,1131.8 L1876.1,1133.0 L1871.5,1134.2 L1866.8,1135.3 L1861.9,1136.4 L1856.8,1137.4 L1851.5,1138.3 L1846.1,1139.2 L1840.5,1140.0 L1834.7,1140.8 L1828.8,1141.5 L1822.7,1142.1 L1816.4,1142.7 L1810.0,1143.2 L1803.3,1143.6 L1796.5,1144.0 L1789.5,1144.3 L1782.2,1144.5 L1774.5,1144.7 L1766.1,1144.8 L1755.5,1144.8 L1745.0,1144.8 L1736.8,1144.7 L1729.5,1144.5 L1722.8,1144.3 L1716.5,1144.0 L1710.5,1143.6 L1704.9,1143.2 L1699.7,1142.7 L1694.8,1142.1 L1690.1,1141.5 L1685.8,1140.8 L1681.8,1140.0 L1678.2,1139.2 L1674.8,1138.3 L1671.8,1137.4 L1669.0,1136.4 L1666.6,1135.3 L1664.5,1134.2 L1662.8,1133.0 L1662.3,1131.8Z" fill="url(#vo2)"/>
<path d="M1914.0,519.5 L1916.9,517.0 L1918.7,515.0 L1918.7,513.2 L1918.7,511.5 L1918.7,509.9 L1918.7,508.4 L1918.7,506.9 L1918.7,505.5 L1918.7,504.2 L1918.7,502.9 L1918.3,501.7 L1916.5,500.5 L1914.4,499.4 L1912.0,498.3 L1909.2,497.3 L1906.2,496.4 L1902.8,495.5 L1899.1,494.7 L1895.2,493.9 L1890.9,493.2 L1886.2,492.6 L1881.3,492.0 L1876.1,491.5 L1870.5,491.1 L1864.5,490.7 L1858.2,490.4 L1851.5,490.2 L1844.1,490.0 L1836.0,489.9 L1825.5,489.9 L1814.9,489.9 L1806.5,490.0 L1798.8,490.2 L1791.5,490.4 L1784.5,490.7 L1777.7,491.1 L1771.0,491.5 L1764.6,492.0 L1758.3,492.6 L1752.2,493.2 L1746.3,493.9 L1740.5,494.7 L1734.9,495.5 L1729.5,496.4 L1724.2,497.3 L1719.1,498.3 L1714.2,499.4 L1709.5,500.5 L1704.9,501.7 L1700.6,502.9 L1696.4,504.2 L1692.5,505.5 L1688.8,506.9 L1685.2,508.4 L1681.9,509.9 L1678.7,511.5 L1675.7,513.2 L1672.9,515.0 L1670.1,517.0 L1667.0,519.5 L1664.1,522.0 L1662.3,524.0 L1662.3,525.8 L1662.3,527.5 L1662.3,529.1 L1662.3,530.6 L1662.3,532.1 L1662.3,533.5 L1662.3,534.8 L1662.3,536.1 L1662.7,537.3 L1664.5,538.5 L1666.6,539.6 L1669.0,540.7 L1671.8,541.7 L1674.8,542.6 L1678.2,543.5 L1681.9,544.3 L1685.8,545.1 L1690.1,545.8 L1694.8,546.4 L1699.7,547.0 L1704.9,547.5 L1710.5,547.9 L1716.5,548.3 L1722.8,548.6 L1729.5,548.8 L1736.9,549.0 L1745.0,549.1 L1755.5,549.1 L1766.1,549.1 L1774.5,549.0 L1782.2,548.8 L1789.5,548.6 L1796.5,548.3 L1803.3,547.9 L1810.0,547.5 L1816.4,547.0 L1822.7,546.4 L1828.8,545.8 L1834.7,545.1 L1840.5,544.3 L1846.1,543.5 L1851.5,542.6 L1856.8,541.7 L1861.9,540.7 L1866.8,539.6 L1871.5,538.5 L1876.1,537.3 L1880.4,536.1 L1884.6,534.8 L1888.5,533.5 L1892.2,532.1 L1895.8,530.6 L1899.1,529.1 L1902.3,527.5 L1905.3,525.8 L1908.1,524.0 L1910.9,522.0 L1914.0,519.5Z" fill="url(#to2)" stroke="#6a2200" stroke-width="1" stroke-opacity="0.35"/>
<path d="M1662.3,524.0 L1664.2,522.0 L1667.0,519.5 L1670.1,517.0 L1672.9,515.0 L1675.7,513.2 L1678.7,511.5 L1681.9,509.9 L1685.2,508.4 L1688.8,506.9 L1692.5,505.5 L1696.5,504.2 L1700.6,502.9 L1704.9,501.7 L1709.5,500.5 L1714.2,499.4 L1719.1,498.3 L1724.2,497.3 L1729.5,496.4 L1734.9,495.5 L1740.5,494.7 L1746.3,493.9 L1752.2,493.2 L1758.3,492.6 L1764.6,492.1 L1771.0,491.6 L1777.7,491.1 L1784.5,490.7 L1791.5,490.4 L1798.8,490.2 L1806.5,490.0 L1814.9,489.9 L1825.5,489.9 L1836.0,489.9 L1844.2,490.0 L1851.5,490.2 L1858.2,490.4 L1864.5,490.7 L1870.5,491.1 L1876.1,491.6 L1881.3,492.1 L1886.2,492.6 L1890.9,493.2 L1895.2,493.9 L1899.2,494.7 L1902.8,495.5 L1906.2,496.4 L1909.2,497.3 L1912.0,498.3 L1914.4,499.4 L1916.5,500.5 L1918.2,501.7 L1918.7,502.9 L1918.7,1110.7 L1916.8,1112.7 L1914.0,1115.2 L1910.9,1117.7 L1908.1,1119.7 L1905.3,1121.5 L1902.3,1123.2 L1899.1,1124.8 L1895.8,1126.3 L1892.2,1127.8 L1888.5,1129.2 L1884.5,1130.5 L1880.4,1131.8 L1876.1,1133.0 L1871.5,1134.2 L1866.8,1135.3 L1861.9,1136.4 L1856.8,1137.4 L1851.5,1138.3 L1846.1,1139.2 L1840.5,1140.0 L1834.7,1140.8 L1828.8,1141.5 L1822.7,1142.1 L1816.4,1142.7 L1810.0,1143.2 L1803.3,1143.6 L1796.5,1144.0 L1789.5,1144.3 L1782.2,1144.5 L1774.5,1144.7 L1766.1,1144.8 L1755.5,1144.8 L1745.0,1144.8 L1736.8,1144.7 L1729.5,1144.5 L1722.8,1144.3 L1716.5,1144.0 L1710.5,1143.6 L1704.9,1143.2 L1699.7,1142.7 L1694.8,1142.1 L1690.1,1141.5 L1685.8,1140.8 L1681.8,1140.0 L1678.2,1139.2 L1674.8,1138.3 L1671.8,1137.4 L1669.0,1136.4 L1666.6,1135.3 L1664.5,1134.2 L1662.8,1133.0 L1662.3,1131.8Z" fill="none" stroke="#6a2200" stroke-width="2.2" stroke-opacity="0.8"/>
<linearGradient id="gb0" gradientUnits="userSpaceOnUse" x1="522.4" y1="0" x2="778.8" y2="0"><stop offset="0.0" stop-color="#002d61"/><stop offset="0.03" stop-color="#013268"/><stop offset="0.06" stop-color="#023975"/><stop offset="0.12" stop-color="#03478c"/><stop offset="0.17" stop-color="#04509b"/><stop offset="0.25" stop-color="#0557a7"/><stop offset="0.33" stop-color="#055cb0"/><stop offset="0.42" stop-color="#0661b7"/><stop offset="0.5" stop-color="#0664bc"/><stop offset="0.55" stop-color="#0662b9"/><stop offset="0.62" stop-color="#055caf"/><stop offset="0.7" stop-color="#0454a2"/><stop offset="0.78" stop-color="#044d96"/><stop offset="0.86" stop-color="#034487"/><stop offset="0.92" stop-color="#023b79"/><stop offset="0.97" stop-color="#013268"/><stop offset="1.0" stop-color="#002c5f"/></linearGradient>
<radialGradient id="rb0" gradientUnits="userSpaceOnUse" cx="646.6" cy="1038.8" r="265.3" fx="646.6" fy="1038.8" gradientTransform="translate(646.6 1038.8) scale(0.4335 1) translate(-646.6 -1038.8)"><stop offset="0" stop-color="#0c70d2" stop-opacity="0.5"/><stop offset="0.25" stop-color="#0c70d2" stop-opacity="0.400"/><stop offset="0.55" stop-color="#0c70d2" stop-opacity="0.200"/><stop offset="1" stop-color="#0c70d2" stop-opacity="0"/></radialGradient>
<linearGradient id="vb0" gradientUnits="userSpaceOnUse" x1="0" y1="729.4" x2="0" y2="1270.9"><stop offset="0" stop-color="#000" stop-opacity="0.07"/><stop offset="0.35" stop-color="#000" stop-opacity="0.015"/><stop offset="0.7" stop-color="#000" stop-opacity="0"/><stop offset="1" stop-color="#000" stop-opacity="0.10"/></linearGradient>
<linearGradient id="tb0" gradientUnits="userSpaceOnUse" x1="522.4" y1="0" x2="778.8" y2="0"><stop offset="0" stop-color="#00427c"/><stop offset="0.5" stop-color="#003f79"/><stop offset="1" stop-color="#003c74"/></linearGradient>
<path d="M522.4,763.5 L524.3,761.5 L527.1,759.0 L530.3,756.5 L533.0,754.5 L535.9,752.7 L538.8,751.0 L542.0,749.4 L545.4,747.9 L548.9,746.4 L552.6,745.0 L556.6,743.7 L560.7,742.4 L565.1,741.2 L569.6,740.0 L574.3,738.9 L579.2,737.8 L584.3,736.8 L589.6,735.9 L595.0,735.0 L600.6,734.2 L606.4,733.4 L612.4,732.7 L618.5,732.1 L624.7,731.5 L631.2,731.0 L637.8,730.6 L644.6,730.2 L651.6,729.9 L659.0,729.7 L666.7,729.5 L675.0,729.4 L685.6,729.4 L696.2,729.4 L704.3,729.5 L711.6,729.7 L718.4,729.9 L724.7,730.2 L730.6,730.6 L736.2,731.0 L741.5,731.5 L746.4,732.1 L751.0,732.7 L755.3,733.4 L759.3,734.2 L763.0,735.0 L766.3,735.9 L769.4,736.8 L772.1,737.8 L774.5,738.9 L776.6,740.0 L778.4,741.2 L778.8,742.4 L778.8,1236.8 L777.0,1238.8 L774.1,1241.3 L771.0,1243.9 L768.2,1245.8 L765.4,1247.6 L762.4,1249.3 L759.3,1250.9 L755.9,1252.5 L752.4,1253.9 L748.6,1255.3 L744.7,1256.7 L740.5,1258.0 L736.2,1259.2 L731.7,1260.3 L726.9,1261.5 L722.0,1262.5 L716.9,1263.5 L711.7,1264.5 L706.2,1265.3 L700.6,1266.1 L694.8,1266.9 L688.9,1267.6 L682.8,1268.2 L676.5,1268.8 L670.1,1269.3 L663.5,1269.7 L656.7,1270.1 L649.6,1270.4 L642.3,1270.6 L634.6,1270.8 L626.2,1270.9 L615.6,1270.9 L605.1,1270.9 L597.0,1270.8 L589.7,1270.6 L582.9,1270.4 L576.6,1270.1 L570.6,1269.7 L565.1,1269.3 L559.8,1268.8 L554.9,1268.2 L550.3,1267.6 L546.0,1266.9 L542.0,1266.1 L538.3,1265.3 L534.9,1264.5 L531.9,1263.5 L529.2,1262.5 L526.7,1261.5 L524.6,1260.3 L522.9,1259.2 L522.4,1258.0Z" fill="url(#gb0)"/>
<path d="M522.4,763.5 L524.3,761.5 L527.1,759.0 L530.3,756.5 L533.0,754.5 L535.9,752.7 L538.8,751.0 L542.0,749.4 L545.4,747.9 L548.9,746.4 L552.6,745.0 L556.6,743.7 L560.7,742.4 L565.1,741.2 L569.6,740.0 L574.3,738.9 L579.2,737.8 L584.3,736.8 L589.6,735.9 L595.0,735.0 L600.6,734.2 L606.4,733.4 L612.4,732.7 L618.5,732.1 L624.7,731.5 L631.2,731.0 L637.8,730.6 L644.6,730.2 L651.6,729.9 L659.0,729.7 L666.7,729.5 L675.0,729.4 L685.6,729.4 L696.2,729.4 L704.3,729.5 L711.6,729.7 L718.4,729.9 L724.7,730.2 L730.6,730.6 L736.2,731.0 L741.5,731.5 L746.4,732.1 L751.0,732.7 L755.3,733.4 L759.3,734.2 L763.0,735.0 L766.3,735.9 L769.4,736.8 L772.1,737.8 L774.5,738.9 L776.6,740.0 L778.4,741.2 L778.8,742.4 L778.8,1236.8 L777.0,1238.8 L774.1,1241.3 L771.0,1243.9 L768.2,1245.8 L765.4,1247.6 L762.4,1249.3 L759.3,1250.9 L755.9,1252.5 L752.4,1253.9 L748.6,1255.3 L744.7,1256.7 L740.5,1258.0 L736.2,1259.2 L731.7,1260.3 L726.9,1261.5 L722.0,1262.5 L716.9,1263.5 L711.7,1264.5 L706.2,1265.3 L700.6,1266.1 L694.8,1266.9 L688.9,1267.6 L682.8,1268.2 L676.5,1268.8 L670.1,1269.3 L663.5,1269.7 L656.7,1270.1 L649.6,1270.4 L642.3,1270.6 L634.6,1270.8 L626.2,1270.9 L615.6,1270.9 L605.1,1270.9 L597.0,1270.8 L589.7,1270.6 L582.9,1270.4 L576.6,1270.1 L570.6,1269.7 L565.1,1269.3 L559.8,1268.8 L554.9,1268.2 L550.3,1267.6 L546.0,1266.9 L542.0,1266.1 L538.3,1265.3 L534.9,1264.5 L531.9,1263.5 L529.2,1262.5 L526.7,1261.5 L524.6,1260.3 L522.9,1259.2 L522.4,1258.0Z" fill="url(#rb0)"/>
<path d="M522.4,763.5 L524.3,761.5 L527.1,759.0 L530.3,756.5 L533.0,754.5 L535.9,752.7 L538.8,751.0 L542.0,749.4 L545.4,747.9 L548.9,746.4 L552.6,745.0 L556.6,743.7 L560.7,742.4 L565.1,741.2 L569.6,740.0 L574.3,738.9 L579.2,737.8 L584.3,736.8 L589.6,735.9 L595.0,735.0 L600.6,734.2 L606.4,733.4 L612.4,732.7 L618.5,732.1 L624.7,731.5 L631.2,731.0 L637.8,730.6 L644.6,730.2 L651.6,729.9 L659.0,729.7 L666.7,729.5 L675.0,729.4 L685.6,729.4 L696.2,729.4 L704.3,729.5 L711.6,729.7 L718.4,729.9 L724.7,730.2 L730.6,730.6 L736.2,731.0 L741.5,731.5 L746.4,732.1 L751.0,732.7 L755.3,733.4 L759.3,734.2 L763.0,735.0 L766.3,735.9 L769.4,736.8 L772.1,737.8 L774.5,738.9 L776.6,740.0 L778.4,741.2 L778.8,742.4 L778.8,1236.8 L777.0,1238.8 L774.1,1241.3 L771.0,1243.9 L768.2,1245.8 L765.4,1247.6 L762.4,1249.3 L759.3,1250.9 L755.9,1252.5 L752.4,1253.9 L748.6,1255.3 L744.7,1256.7 L740.5,1258.0 L736.2,1259.2 L731.7,1260.3 L726.9,1261.5 L722.0,1262.5 L716.9,1263.5 L711.7,1264.5 L706.2,1265.3 L700.6,1266.1 L694.8,1266.9 L688.9,1267.6 L682.8,1268.2 L676.5,1268.8 L670.1,1269.3 L663.5,1269.7 L656.7,1270.1 L649.6,1270.4 L642.3,1270.6 L634.6,1270.8 L626.2,1270.9 L615.6,1270.9 L605.1,1270.9 L597.0,1270.8 L589.7,1270.6 L582.9,1270.4 L576.6,1270.1 L570.6,1269.7 L565.1,1269.3 L559.8,1268.8 L554.9,1268.2 L550.3,1267.6 L546.0,1266.9 L542.0,1266.1 L538.3,1265.3 L534.9,1264.5 L531.9,1263.5 L529.2,1262.5 L526.7,1261.5 L524.6,1260.3 L522.9,1259.2 L522.4,1258.0Z" fill="url(#vb0)"/>
<path d="M774.1,759.0 L777.0,756.5 L778.8,754.5 L778.8,752.7 L778.8,751.0 L778.8,749.4 L778.8,747.9 L778.8,746.4 L778.8,745.0 L778.8,743.7 L778.8,742.4 L778.4,741.2 L776.6,740.0 L774.5,738.9 L772.1,737.8 L769.4,736.8 L766.3,735.9 L763.0,735.0 L759.3,734.2 L755.3,733.4 L751.0,732.7 L746.4,732.1 L741.5,731.5 L736.2,731.0 L730.6,730.6 L724.7,730.2 L718.4,729.9 L711.6,729.7 L704.3,729.5 L696.2,729.4 L685.6,729.4 L675.0,729.4 L666.7,729.5 L659.0,729.7 L651.6,729.9 L644.6,730.2 L637.8,730.6 L631.2,731.0 L624.7,731.5 L618.5,732.1 L612.4,732.7 L606.4,733.4 L600.7,734.2 L595.0,735.0 L589.6,735.9 L584.3,736.8 L579.2,737.8 L574.3,738.9 L569.6,740.0 L565.1,741.2 L560.7,742.4 L556.6,743.7 L552.6,745.0 L548.9,746.4 L545.3,747.9 L542.0,749.4 L538.8,751.0 L535.9,752.7 L533.0,754.5 L530.3,756.5 L527.1,759.0 L524.3,761.5 L522.4,763.5 L522.4,765.3 L522.4,767.0 L522.4,768.6 L522.4,770.1 L522.4,771.6 L522.4,773.0 L522.4,774.3 L522.4,775.6 L522.9,776.8 L524.6,778.0 L526.7,779.1 L529.2,780.2 L531.9,781.2 L534.9,782.1 L538.3,783.0 L542.0,783.8 L546.0,784.6 L550.3,785.3 L554.9,785.9 L559.8,786.5 L565.1,787.0 L570.7,787.4 L576.6,787.8 L582.9,788.1 L589.7,788.3 L597.0,788.5 L605.1,788.6 L615.6,788.6 L626.2,788.6 L634.6,788.5 L642.3,788.3 L649.6,788.1 L656.7,787.8 L663.5,787.4 L670.1,787.0 L676.5,786.5 L682.8,785.9 L688.9,785.3 L694.8,784.6 L700.6,783.8 L706.2,783.0 L711.7,782.1 L716.9,781.2 L722.0,780.2 L726.9,779.1 L731.7,778.0 L736.2,776.8 L740.5,775.6 L744.7,774.3 L748.6,773.0 L752.4,771.6 L755.9,770.1 L759.3,768.6 L762.4,767.0 L765.4,765.3 L768.2,763.5 L771.0,761.5 L774.1,759.0Z" fill="url(#tb0)" stroke="#00214c" stroke-width="1" stroke-opacity="0.35"/>
<path d="M522.4,763.5 L524.3,761.5 L527.1,759.0 L530.3,756.5 L533.0,754.5 L535.9,752.7 L538.8,751.0 L542.0,749.4 L545.4,747.9 L548.9,746.4 L552.6,745.0 L556.6,743.7 L560.7,742.4 L565.1,741.2 L569.6,740.0 L574.3,738.9 L579.2,737.8 L584.3,736.8 L589.6,735.9 L595.0,735.0 L600.6,734.2 L606.4,733.4 L612.4,732.7 L618.5,732.1 L624.7,731.5 L631.2,731.0 L637.8,730.6 L644.6,730.2 L651.6,729.9 L659.0,729.7 L666.7,729.5 L675.0,729.4 L685.6,729.4 L696.2,729.4 L704.3,729.5 L711.6,729.7 L718.4,729.9 L724.7,730.2 L730.6,730.6 L736.2,731.0 L741.5,731.5 L746.4,732.1 L751.0,732.7 L755.3,733.4 L759.3,734.2 L763.0,735.0 L766.3,735.9 L769.4,736.8 L772.1,737.8 L774.5,738.9 L776.6,740.0 L778.4,741.2 L778.8,742.4 L778.8,1236.8 L777.0,1238.8 L774.1,1241.3 L771.0,1243.9 L768.2,1245.8 L765.4,1247.6 L762.4,1249.3 L759.3,1250.9 L755.9,1252.5 L752.4,1253.9 L748.6,1255.3 L744.7,1256.7 L740.5,1258.0 L736.2,1259.2 L731.7,1260.3 L726.9,1261.5 L722.0,1262.5 L716.9,1263.5 L711.7,1264.5 L706.2,1265.3 L700.6,1266.1 L694.8,1266.9 L688.9,1267.6 L682.8,1268.2 L676.5,1268.8 L670.1,1269.3 L663.5,1269.7 L656.7,1270.1 L649.6,1270.4 L642.3,1270.6 L634.6,1270.8 L626.2,1270.9 L615.6,1270.9 L605.1,1270.9 L597.0,1270.8 L589.7,1270.6 L582.9,1270.4 L576.6,1270.1 L570.6,1269.7 L565.1,1269.3 L559.8,1268.8 L554.9,1268.2 L550.3,1267.6 L546.0,1266.9 L542.0,1266.1 L538.3,1265.3 L534.9,1264.5 L531.9,1263.5 L529.2,1262.5 L526.7,1261.5 L524.6,1260.3 L522.9,1259.2 L522.4,1258.0Z" fill="none" stroke="#00214c" stroke-width="2.2" stroke-opacity="0.8"/>
<linearGradient id="gb1" gradientUnits="userSpaceOnUse" x1="1009.4" y1="0" x2="1265.8" y2="0"><stop offset="0.0" stop-color="#002d61"/><stop offset="0.03" stop-color="#013268"/><stop offset="0.06" stop-color="#023975"/><stop offset="0.12" stop-color="#03478c"/><stop offset="0.17" stop-color="#04509b"/><stop offset="0.25" stop-color="#0557a7"/><stop offset="0.33" stop-color="#055cb0"/><stop offset="0.42" stop-color="#0661b7"/><stop offset="0.5" stop-color="#0664bc"/><stop offset="0.55" stop-color="#0662b9"/><stop offset="0.62" stop-color="#055caf"/><stop offset="0.7" stop-color="#0454a2"/><stop offset="0.78" stop-color="#044d96"/><stop offset="0.86" stop-color="#034487"/><stop offset="0.92" stop-color="#023b79"/><stop offset="0.97" stop-color="#013268"/><stop offset="1.0" stop-color="#002c5f"/></linearGradient>
<radialGradient id="rb1" gradientUnits="userSpaceOnUse" cx="1133.6" cy="966.2" r="360.3" fx="1133.6" fy="966.2" gradientTransform="translate(1133.6 966.2) scale(0.3192 1) translate(-1133.6 -966.2)"><stop offset="0" stop-color="#0c70d2" stop-opacity="0.5"/><stop offset="0.25" stop-color="#0c70d2" stop-opacity="0.400"/><stop offset="0.55" stop-color="#0c70d2" stop-opacity="0.200"/><stop offset="1" stop-color="#0c70d2" stop-opacity="0"/></radialGradient>
<linearGradient id="vb1" gradientUnits="userSpaceOnUse" x1="0" y1="556.7" x2="0" y2="1270.9"><stop offset="0" stop-color="#000" stop-opacity="0.07"/><stop offset="0.35" stop-color="#000" stop-opacity="0.015"/><stop offset="0.7" stop-color="#000" stop-opacity="0"/><stop offset="1" stop-color="#000" stop-opacity="0.10"/></linearGradient>
<linearGradient id="tb1" gradientUnits="userSpaceOnUse" x1="1009.4" y1="0" x2="1265.8" y2="0"><stop offset="0" stop-color="#00427c"/><stop offset="0.5" stop-color="#003f79"/><stop offset="1" stop-color="#003c74"/></linearGradient>
<path d="M1009.4,590.8 L1011.3,588.8 L1014.1,586.3 L1017.3,583.8 L1020.0,581.8 L1022.9,580.0 L1025.8,578.3 L1029.0,576.7 L1032.3,575.2 L1035.9,573.7 L1039.6,572.3 L1043.6,571.0 L1047.7,569.7 L1052.1,568.5 L1056.6,567.3 L1061.3,566.2 L1066.2,565.1 L1071.3,564.1 L1076.6,563.2 L1082.0,562.3 L1087.7,561.5 L1093.4,560.7 L1099.4,560.0 L1105.5,559.4 L1111.7,558.9 L1118.2,558.4 L1124.8,557.9 L1131.6,557.5 L1138.6,557.2 L1146.0,557.0 L1153.7,556.8 L1162.0,556.7 L1172.6,556.7 L1183.2,556.7 L1191.3,556.8 L1198.6,557.0 L1205.4,557.2 L1211.7,557.5 L1217.6,557.9 L1223.2,558.4 L1228.5,558.9 L1233.4,559.4 L1238.0,560.0 L1242.3,560.7 L1246.3,561.5 L1250.0,562.3 L1253.3,563.2 L1256.4,564.1 L1259.1,565.1 L1261.5,566.2 L1263.6,567.3 L1265.4,568.5 L1265.8,569.7 L1265.8,1236.8 L1264.0,1238.8 L1261.1,1241.3 L1258.0,1243.9 L1255.2,1245.8 L1252.4,1247.6 L1249.4,1249.3 L1246.3,1250.9 L1242.9,1252.5 L1239.4,1253.9 L1235.6,1255.3 L1231.7,1256.7 L1227.5,1258.0 L1223.2,1259.2 L1218.7,1260.3 L1213.9,1261.5 L1209.0,1262.5 L1203.9,1263.5 L1198.7,1264.5 L1193.2,1265.3 L1187.6,1266.1 L1181.8,1266.9 L1175.9,1267.6 L1169.8,1268.2 L1163.5,1268.8 L1157.1,1269.3 L1150.5,1269.7 L1143.7,1270.1 L1136.6,1270.4 L1129.3,1270.6 L1121.6,1270.8 L1113.2,1270.9 L1102.6,1270.9 L1092.1,1270.9 L1084.0,1270.8 L1076.7,1270.6 L1069.9,1270.4 L1063.6,1270.1 L1057.7,1269.7 L1052.1,1269.3 L1046.8,1268.8 L1041.9,1268.2 L1037.3,1267.6 L1033.0,1266.9 L1029.0,1266.1 L1025.3,1265.3 L1021.9,1264.5 L1018.9,1263.5 L1016.2,1262.5 L1013.7,1261.5 L1011.6,1260.3 L1009.9,1259.2 L1009.4,1258.0Z" fill="url(#gb1)"/>
<path d="M1009.4,590.8 L1011.3,588.8 L1014.1,586.3 L1017.3,583.8 L1020.0,581.8 L1022.9,580.0 L1025.8,578.3 L1029.0,576.7 L1032.3,575.2 L1035.9,573.7 L1039.6,572.3 L1043.6,571.0 L1047.7,569.7 L1052.1,568.5 L1056.6,567.3 L1061.3,566.2 L1066.2,565.1 L1071.3,564.1 L1076.6,563.2 L1082.0,562.3 L1087.7,561.5 L1093.4,560.7 L1099.4,560.0 L1105.5,559.4 L1111.7,558.9 L1118.2,558.4 L1124.8,557.9 L1131.6,557.5 L1138.6,557.2 L1146.0,557.0 L1153.7,556.8 L1162.0,556.7 L1172.6,556.7 L1183.2,556.7 L1191.3,556.8 L1198.6,557.0 L1205.4,557.2 L1211.7,557.5 L1217.6,557.9 L1223.2,558.4 L1228.5,558.9 L1233.4,559.4 L1238.0,560.0 L1242.3,560.7 L1246.3,561.5 L1250.0,562.3 L1253.3,563.2 L1256.4,564.1 L1259.1,565.1 L1261.5,566.2 L1263.6,567.3 L1265.4,568.5 L1265.8,569.7 L1265.8,1236.8 L1264.0,1238.8 L1261.1,1241.3 L1258.0,1243.9 L1255.2,1245.8 L1252.4,1247.6 L1249.4,1249.3 L1246.3,1250.9 L1242.9,1252.5 L1239.4,1253.9 L1235.6,1255.3 L1231.7,1256.7 L1227.5,1258.0 L1223.2,1259.2 L1218.7,1260.3 L1213.9,1261.5 L1209.0,1262.5 L1203.9,1263.5 L1198.7,1264.5 L1193.2,1265.3 L1187.6,1266.1 L1181.8,1266.9 L1175.9,1267.6 L1169.8,1268.2 L1163.5,1268.8 L1157.1,1269.3 L1150.5,1269.7 L1143.7,1270.1 L1136.6,1270.4 L1129.3,1270.6 L1121.6,1270.8 L1113.2,1270.9 L1102.6,1270.9 L1092.1,1270.9 L1084.0,1270.8 L1076.7,1270.6 L1069.9,1270.4 L1063.6,1270.1 L1057.7,1269.7 L1052.1,1269.3 L1046.8,1268.8 L1041.9,1268.2 L1037.3,1267.6 L1033.0,1266.9 L1029.0,1266.1 L1025.3,1265.3 L1021.9,1264.5 L1018.9,1263.5 L1016.2,1262.5 L1013.7,1261.5 L1011.6,1260.3 L1009.9,1259.2 L1009.4,1258.0Z" fill="url(#rb1)"/>
<path d="M1009.4,590.8 L1011.3,588.8 L1014.1,586.3 L1017.3,583.8 L1020.0,581.8 L1022.9,580.0 L1025.8,578.3 L1029.0,576.7 L1032.3,575.2 L1035.9,573.7 L1039.6,572.3 L1043.6,571.0 L1047.7,569.7 L1052.1,568.5 L1056.6,567.3 L1061.3,566.2 L1066.2,565.1 L1071.3,564.1 L1076.6,563.2 L1082.0,562.3 L1087.7,561.5 L1093.4,560.7 L1099.4,560.0 L1105.5,559.4 L1111.7,558.9 L1118.2,558.4 L1124.8,557.9 L1131.6,557.5 L1138.6,557.2 L1146.0,557.0 L1153.7,556.8 L1162.0,556.7 L1172.6,556.7 L1183.2,556.7 L1191.3,556.8 L1198.6,557.0 L1205.4,557.2 L1211.7,557.5 L1217.6,557.9 L1223.2,558.4 L1228.5,558.9 L1233.4,559.4 L1238.0,560.0 L1242.3,560.7 L1246.3,561.5 L1250.0,562.3 L1253.3,563.2 L1256.4,564.1 L1259.1,565.1 L1261.5,566.2 L1263.6,567.3 L1265.4,568.5 L1265.8,569.7 L1265.8,1236.8 L1264.0,1238.8 L1261.1,1241.3 L1258.0,1243.9 L1255.2,1245.8 L1252.4,1247.6 L1249.4,1249.3 L1246.3,1250.9 L1242.9,1252.5 L1239.4,1253.9 L1235.6,1255.3 L1231.7,1256.7 L1227.5,1258.0 L1223.2,1259.2 L1218.7,1260.3 L1213.9,1261.5 L1209.0,1262.5 L1203.9,1263.5 L1198.7,1264.5 L1193.2,1265.3 L1187.6,1266.1 L1181.8,1266.9 L1175.9,1267.6 L1169.8,1268.2 L1163.5,1268.8 L1157.1,1269.3 L1150.5,1269.7 L1143.7,1270.1 L1136.6,1270.4 L1129.3,1270.6 L1121.6,1270.8 L1113.2,1270.9 L1102.6,1270.9 L1092.1,1270.9 L1084.0,1270.8 L1076.7,1270.6 L1069.9,1270.4 L1063.6,1270.1 L1057.7,1269.7 L1052.1,1269.3 L1046.8,1268.8 L1041.9,1268.2 L1037.3,1267.6 L1033.0,1266.9 L1029.0,1266.1 L1025.3,1265.3 L1021.9,1264.5 L1018.9,1263.5 L1016.2,1262.5 L1013.7,1261.5 L1011.6,1260.3 L1009.9,1259.2 L1009.4,1258.0Z" fill="url(#vb1)"/>
<path d="M1261.1,586.3 L1264.0,583.8 L1265.8,581.8 L1265.8,580.0 L1265.8,578.3 L1265.8,576.7 L1265.8,575.2 L1265.8,573.7 L1265.8,572.3 L1265.8,571.0 L1265.8,569.7 L1265.4,568.5 L1263.6,567.3 L1261.5,566.2 L1259.1,565.1 L1256.4,564.1 L1253.3,563.2 L1250.0,562.3 L1246.3,561.5 L1242.3,560.7 L1238.0,560.0 L1233.4,559.4 L1228.5,558.8 L1223.2,558.3 L1217.6,557.9 L1211.7,557.5 L1205.4,557.2 L1198.6,557.0 L1191.3,556.8 L1183.2,556.7 L1172.6,556.7 L1162.0,556.7 L1153.7,556.8 L1146.0,557.0 L1138.6,557.2 L1131.6,557.5 L1124.8,557.9 L1118.2,558.3 L1111.7,558.8 L1105.5,559.4 L1099.4,560.0 L1093.4,560.7 L1087.7,561.5 L1082.0,562.3 L1076.6,563.2 L1071.3,564.1 L1066.2,565.1 L1061.3,566.2 L1056.6,567.3 L1052.1,568.5 L1047.7,569.7 L1043.6,571.0 L1039.6,572.3 L1035.9,573.7 L1032.3,575.2 L1029.0,576.7 L1025.8,578.3 L1022.9,580.0 L1020.0,581.8 L1017.3,583.8 L1014.1,586.3 L1011.3,588.8 L1009.4,590.8 L1009.4,592.6 L1009.4,594.3 L1009.4,595.9 L1009.4,597.4 L1009.4,598.9 L1009.4,600.3 L1009.4,601.6 L1009.4,602.9 L1009.9,604.1 L1011.6,605.3 L1013.7,606.4 L1016.2,607.5 L1018.9,608.5 L1021.9,609.4 L1025.3,610.3 L1029.0,611.1 L1033.0,611.9 L1037.3,612.6 L1041.9,613.2 L1046.8,613.8 L1052.1,614.3 L1057.7,614.7 L1063.6,615.1 L1069.9,615.4 L1076.7,615.6 L1084.0,615.8 L1092.1,615.9 L1102.6,615.9 L1113.2,615.9 L1121.6,615.8 L1129.3,615.6 L1136.6,615.4 L1143.7,615.1 L1150.5,614.7 L1157.1,614.3 L1163.5,613.8 L1169.8,613.2 L1175.9,612.6 L1181.8,611.9 L1187.6,611.1 L1193.2,610.3 L1198.7,609.4 L1203.9,608.5 L1209.0,607.5 L1213.9,606.4 L1218.7,605.3 L1223.2,604.1 L1227.5,602.9 L1231.7,601.6 L1235.6,600.3 L1239.4,598.9 L1242.9,597.4 L1246.3,595.9 L1249.4,594.3 L1252.4,592.6 L1255.2,590.8 L1258.0,588.8 L1261.1,586.3Z" fill="url(#tb1)" stroke="#00214c" stroke-width="1" stroke-opacity="0.35"/>
<path d="M1009.4,590.8 L1011.3,588.8 L1014.1,586.3 L1017.3,583.8 L1020.0,581.8 L1022.9,580.0 L1025.8,578.3 L1029.0,576.7 L1032.3,575.2 L1035.9,573.7 L1039.6,572.3 L1043.6,571.0 L1047.7,569.7 L1052.1,568.5 L1056.6,567.3 L1061.3,566.2 L1066.2,565.1 L1071.3,564.1 L1076.6,563.2 L1082.0,562.3 L1087.7,561.5 L1093.4,560.7 L1099.4,560.0 L1105.5,559.4 L1111.7,558.9 L1118.2,558.4 L1124.8,557.9 L1131.6,557.5 L1138.6,557.2 L1146.0,557.0 L1153.7,556.8 L1162.0,556.7 L1172.6,556.7 L1183.2,556.7 L1191.3,556.8 L1198.6,557.0 L1205.4,557.2 L1211.7,557.5 L1217.6,557.9 L1223.2,558.4 L1228.5,558.9 L1233.4,559.4 L1238.0,560.0 L1242.3,560.7 L1246.3,561.5 L1250.0,562.3 L1253.3,563.2 L1256.4,564.1 L1259.1,565.1 L1261.5,566.2 L1263.6,567.3 L1265.4,568.5 L1265.8,569.7 L1265.8,1236.8 L1264.0,1238.8 L1261.1,1241.3 L1258.0,1243.9 L1255.2,1245.8 L1252.4,1247.6 L1249.4,1249.3 L1246.3,1250.9 L1242.9,1252.5 L1239.4,1253.9 L1235.6,1255.3 L1231.7,1256.7 L1227.5,1258.0 L1223.2,1259.2 L1218.7,1260.3 L1213.9,1261.5 L1209.0,1262.5 L1203.9,1263.5 L1198.7,1264.5 L1193.2,1265.3 L1187.6,1266.1 L1181.8,1266.9 L1175.9,1267.6 L1169.8,1268.2 L1163.5,1268.8 L1157.1,1269.3 L1150.5,1269.7 L1143.7,1270.1 L1136.6,1270.4 L1129.3,1270.6 L1121.6,1270.8 L1113.2,1270.9 L1102.6,1270.9 L1092.1,1270.9 L1084.0,1270.8 L1076.7,1270.6 L1069.9,1270.4 L1063.6,1270.1 L1057.7,1269.7 L1052.1,1269.3 L1046.8,1268.8 L1041.9,1268.2 L1037.3,1267.6 L1033.0,1266.9 L1029.0,1266.1 L1025.3,1265.3 L1021.9,1264.5 L1018.9,1263.5 L1016.2,1262.5 L1013.7,1261.5 L1011.6,1260.3 L1009.9,1259.2 L1009.4,1258.0Z" fill="none" stroke="#00214c" stroke-width="2.2" stroke-opacity="0.8"/>
<linearGradient id="gb2" gradientUnits="userSpaceOnUse" x1="1496.4" y1="0" x2="1752.8" y2="0"><stop offset="0.0" stop-color="#002d61"/><stop offset="0.03" stop-color="#013268"/><stop offset="0.06" stop-color="#023975"/><stop offset="0.12" stop-color="#03478c"/><stop offset="0.17" stop-color="#04509b"/><stop offset="0.25" stop-color="#0557a7"/><stop offset="0.33" stop-color="#055cb0"/><stop offset="0.42" stop-color="#0661b7"/><stop offset="0.5" stop-color="#0664bc"/><stop offset="0.55" stop-color="#0662b9"/><stop offset="0.62" stop-color="#055caf"/><stop offset="0.7" stop-color="#0454a2"/><stop offset="0.78" stop-color="#044d96"/><stop offset="0.86" stop-color="#034487"/><stop offset="0.92" stop-color="#023b79"/><stop offset="0.97" stop-color="#013268"/><stop offset="1.0" stop-color="#002c5f"/></linearGradient>
<radialGradient id="rb2" gradientUnits="userSpaceOnUse" cx="1620.6" cy="966.0" r="360.6" fx="1620.6" fy="966.0" gradientTransform="translate(1620.6 966.0) scale(0.3189 1) translate(-1620.6 -966.0)"><stop offset="0" stop-color="#0c70d2" stop-opacity="0.5"/><stop offset="0.25" stop-color="#0c70d2" stop-opacity="0.400"/><stop offset="0.55" stop-color="#0c70d2" stop-opacity="0.200"/><stop offset="1" stop-color="#0c70d2" stop-opacity="0"/></radialGradient>
<linearGradient id="vb2" gradientUnits="userSpaceOnUse" x1="0" y1="556.1" x2="0" y2="1270.9"><stop offset="0" stop-color="#000" stop-opacity="0.07"/><stop offset="0.35" stop-color="#000" stop-opacity="0.015"/><stop offset="0.7" stop-color="#000" stop-opacity="0"/><stop offset="1" stop-color="#000" stop-opacity="0.10"/></linearGradient>
<linearGradient id="tb2" gradientUnits="userSpaceOnUse" x1="1496.4" y1="0" x2="1752.8" y2="0"><stop offset="0" stop-color="#00427c"/><stop offset="0.5" stop-color="#003f79"/><stop offset="1" stop-color="#003c74"/></linearGradient>
<path d="M1496.4,590.2 L1498.3,588.2 L1501.1,585.7 L1504.3,583.2 L1507.0,581.2 L1509.9,579.4 L1512.8,577.7 L1516.0,576.1 L1519.3,574.6 L1522.9,573.1 L1526.6,571.7 L1530.6,570.4 L1534.7,569.1 L1539.1,567.9 L1543.6,566.7 L1548.3,565.6 L1553.2,564.5 L1558.3,563.5 L1563.6,562.6 L1569.0,561.7 L1574.7,560.9 L1580.4,560.1 L1586.4,559.4 L1592.5,558.8 L1598.7,558.2 L1605.2,557.8 L1611.8,557.3 L1618.6,556.9 L1625.6,556.6 L1633.0,556.4 L1640.7,556.2 L1649.0,556.1 L1659.6,556.1 L1670.2,556.1 L1678.3,556.2 L1685.6,556.4 L1692.4,556.6 L1698.7,556.9 L1704.6,557.3 L1710.2,557.8 L1715.5,558.2 L1720.4,558.8 L1725.0,559.4 L1729.3,560.1 L1733.3,560.9 L1737.0,561.7 L1740.3,562.6 L1743.4,563.5 L1746.1,564.5 L1748.5,565.6 L1750.6,566.7 L1752.4,567.9 L1752.8,569.1 L1752.8,1236.8 L1751.0,1238.8 L1748.1,1241.3 L1745.0,1243.9 L1742.2,1245.8 L1739.4,1247.6 L1736.4,1249.3 L1733.3,1250.9 L1729.9,1252.5 L1726.4,1253.9 L1722.6,1255.3 L1718.7,1256.7 L1714.5,1258.0 L1710.2,1259.2 L1705.7,1260.3 L1700.9,1261.5 L1696.0,1262.5 L1690.9,1263.5 L1685.7,1264.5 L1680.2,1265.3 L1674.6,1266.1 L1668.8,1266.9 L1662.9,1267.6 L1656.8,1268.2 L1650.5,1268.8 L1644.1,1269.3 L1637.5,1269.7 L1630.7,1270.1 L1623.6,1270.4 L1616.3,1270.6 L1608.6,1270.8 L1600.2,1270.9 L1589.6,1270.9 L1579.1,1270.9 L1571.0,1270.8 L1563.7,1270.6 L1556.9,1270.4 L1550.6,1270.1 L1544.7,1269.7 L1539.1,1269.3 L1533.8,1268.8 L1528.9,1268.2 L1524.3,1267.6 L1520.0,1266.9 L1516.0,1266.1 L1512.3,1265.3 L1508.9,1264.5 L1505.9,1263.5 L1503.2,1262.5 L1500.7,1261.5 L1498.7,1260.3 L1496.9,1259.2 L1496.4,1258.0Z" fill="url(#gb2)"/>
<path d="M1496.4,590.2 L1498.3,588.2 L1501.1,585.7 L1504.3,583.2 L1507.0,581.2 L1509.9,579.4 L1512.8,577.7 L1516.0,576.1 L1519.3,574.6 L1522.9,573.1 L1526.6,571.7 L1530.6,570.4 L1534.7,569.1 L1539.1,567.9 L1543.6,566.7 L1548.3,565.6 L1553.2,564.5 L1558.3,563.5 L1563.6,562.6 L1569.0,561.7 L1574.7,560.9 L1580.4,560.1 L1586.4,559.4 L1592.5,558.8 L1598.7,558.2 L1605.2,557.8 L1611.8,557.3 L1618.6,556.9 L1625.6,556.6 L1633.0,556.4 L1640.7,556.2 L1649.0,556.1 L1659.6,556.1 L1670.2,556.1 L1678.3,556.2 L1685.6,556.4 L1692.4,556.6 L1698.7,556.9 L1704.6,557.3 L1710.2,557.8 L1715.5,558.2 L1720.4,558.8 L1725.0,559.4 L1729.3,560.1 L1733.3,560.9 L1737.0,561.7 L1740.3,562.6 L1743.4,563.5 L1746.1,564.5 L1748.5,565.6 L1750.6,566.7 L1752.4,567.9 L1752.8,569.1 L1752.8,1236.8 L1751.0,1238.8 L1748.1,1241.3 L1745.0,1243.9 L1742.2,1245.8 L1739.4,1247.6 L1736.4,1249.3 L1733.3,1250.9 L1729.9,1252.5 L1726.4,1253.9 L1722.6,1255.3 L1718.7,1256.7 L1714.5,1258.0 L1710.2,1259.2 L1705.7,1260.3 L1700.9,1261.5 L1696.0,1262.5 L1690.9,1263.5 L1685.7,1264.5 L1680.2,1265.3 L1674.6,1266.1 L1668.8,1266.9 L1662.9,1267.6 L1656.8,1268.2 L1650.5,1268.8 L1644.1,1269.3 L1637.5,1269.7 L1630.7,1270.1 L1623.6,1270.4 L1616.3,1270.6 L1608.6,1270.8 L1600.2,1270.9 L1589.6,1270.9 L1579.1,1270.9 L1571.0,1270.8 L1563.7,1270.6 L1556.9,1270.4 L1550.6,1270.1 L1544.7,1269.7 L1539.1,1269.3 L1533.8,1268.8 L1528.9,1268.2 L1524.3,1267.6 L1520.0,1266.9 L1516.0,1266.1 L1512.3,1265.3 L1508.9,1264.5 L1505.9,1263.5 L1503.2,1262.5 L1500.7,1261.5 L1498.7,1260.3 L1496.9,1259.2 L1496.4,1258.0Z" fill="url(#rb2)"/>
<path d="M1496.4,590.2 L1498.3,588.2 L1501.1,585.7 L1504.3,583.2 L1507.0,581.2 L1509.9,579.4 L1512.8,577.7 L1516.0,576.1 L1519.3,574.6 L1522.9,573.1 L1526.6,571.7 L1530.6,570.4 L1534.7,569.1 L1539.1,567.9 L1543.6,566.7 L1548.3,565.6 L1553.2,564.5 L1558.3,563.5 L1563.6,562.6 L1569.0,561.7 L1574.7,560.9 L1580.4,560.1 L1586.4,559.4 L1592.5,558.8 L1598.7,558.2 L1605.2,557.8 L1611.8,557.3 L1618.6,556.9 L1625.6,556.6 L1633.0,556.4 L1640.7,556.2 L1649.0,556.1 L1659.6,556.1 L1670.2,556.1 L1678.3,556.2 L1685.6,556.4 L1692.4,556.6 L1698.7,556.9 L1704.6,557.3 L1710.2,557.8 L1715.5,558.2 L1720.4,558.8 L1725.0,559.4 L1729.3,560.1 L1733.3,560.9 L1737.0,561.7 L1740.3,562.6 L1743.4,563.5 L1746.1,564.5 L1748.5,565.6 L1750.6,566.7 L1752.4,567.9 L1752.8,569.1 L1752.8,1236.8 L1751.0,1238.8 L1748.1,1241.3 L1745.0,1243.9 L1742.2,1245.8 L1739.4,1247.6 L1736.4,1249.3 L1733.3,1250.9 L1729.9,1252.5 L1726.4,1253.9 L1722.6,1255.3 L1718.7,1256.7 L1714.5,1258.0 L1710.2,1259.2 L1705.7,1260.3 L1700.9,1261.5 L1696.0,1262.5 L1690.9,1263.5 L1685.7,1264.5 L1680.2,1265.3 L1674.6,1266.1 L1668.8,1266.9 L1662.9,1267.6 L1656.8,1268.2 L1650.5,1268.8 L1644.1,1269.3 L1637.5,1269.7 L1630.7,1270.1 L1623.6,1270.4 L1616.3,1270.6 L1608.6,1270.8 L1600.2,1270.9 L1589.6,1270.9 L1579.1,1270.9 L1571.0,1270.8 L1563.7,1270.6 L1556.9,1270.4 L1550.6,1270.1 L1544.7,1269.7 L1539.1,1269.3 L1533.8,1268.8 L1528.9,1268.2 L1524.3,1267.6 L1520.0,1266.9 L1516.0,1266.1 L1512.3,1265.3 L1508.9,1264.5 L1505.9,1263.5 L1503.2,1262.5 L1500.7,1261.5 L1498.7,1260.3 L1496.9,1259.2 L1496.4,1258.0Z" fill="url(#vb2)"/>
<path d="M1748.1,585.7 L1751.0,583.2 L1752.8,581.2 L1752.8,579.4 L1752.8,577.7 L1752.8,576.1 L1752.8,574.6 L1752.8,573.1 L1752.8,571.7 L1752.8,570.4 L1752.8,569.1 L1752.4,567.9 L1750.6,566.7 L1748.5,565.6 L1746.1,564.5 L1743.4,563.5 L1740.3,562.6 L1737.0,561.7 L1733.3,560.9 L1729.3,560.1 L1725.0,559.4 L1720.4,558.8 L1715.5,558.2 L1710.2,557.7 L1704.6,557.3 L1698.7,556.9 L1692.4,556.6 L1685.6,556.4 L1678.3,556.2 L1670.2,556.1 L1659.6,556.1 L1649.0,556.1 L1640.7,556.2 L1633.0,556.4 L1625.6,556.6 L1618.6,556.9 L1611.8,557.3 L1605.2,557.7 L1598.7,558.2 L1592.5,558.8 L1586.4,559.4 L1580.4,560.1 L1574.7,560.9 L1569.0,561.7 L1563.6,562.6 L1558.3,563.5 L1553.2,564.5 L1548.3,565.6 L1543.6,566.7 L1539.1,567.9 L1534.7,569.1 L1530.6,570.4 L1526.6,571.7 L1522.9,573.1 L1519.3,574.6 L1516.0,576.1 L1512.8,577.7 L1509.9,579.4 L1507.0,581.2 L1504.3,583.2 L1501.1,585.7 L1498.3,588.2 L1496.4,590.2 L1496.4,592.0 L1496.4,593.7 L1496.4,595.3 L1496.4,596.8 L1496.4,598.3 L1496.4,599.7 L1496.4,601.0 L1496.4,602.3 L1496.9,603.5 L1498.6,604.7 L1500.7,605.8 L1503.2,606.9 L1505.9,607.9 L1508.9,608.8 L1512.3,609.7 L1516.0,610.5 L1520.0,611.3 L1524.3,612.0 L1528.9,612.6 L1533.8,613.2 L1539.1,613.7 L1544.7,614.1 L1550.6,614.5 L1556.9,614.8 L1563.7,615.0 L1571.0,615.2 L1579.1,615.3 L1589.6,615.3 L1600.2,615.3 L1608.6,615.2 L1616.3,615.0 L1623.6,614.8 L1630.7,614.5 L1637.5,614.1 L1644.1,613.7 L1650.5,613.2 L1656.8,612.6 L1662.9,612.0 L1668.8,611.3 L1674.6,610.5 L1680.2,609.7 L1685.7,608.8 L1690.9,607.9 L1696.0,606.9 L1700.9,605.8 L1705.7,604.7 L1710.2,603.5 L1714.5,602.3 L1718.7,601.0 L1722.6,599.7 L1726.4,598.3 L1729.9,596.8 L1733.3,595.3 L1736.4,593.7 L1739.4,592.0 L1742.2,590.2 L1745.0,588.2 L1748.1,585.7Z" fill="url(#tb2)" stroke="#00214c" stroke-width="1" stroke-opacity="0.35"/>
<path d="M1496.4,590.2 L1498.3,588.2 L1501.1,585.7 L1504.3,583.2 L1507.0,581.2 L1509.9,579.4 L1512.8,577.7 L1516.0,576.1 L1519.3,574.6 L1522.9,573.1 L1526.6,571.7 L1530.6,570.4 L1534.7,569.1 L1539.1,567.9 L1543.6,566.7 L1548.3,565.6 L1553.2,564.5 L1558.3,563.5 L1563.6,562.6 L1569.0,561.7 L1574.7,560.9 L1580.4,560.1 L1586.4,559.4 L1592.5,558.8 L1598.7,558.2 L1605.2,557.8 L1611.8,557.3 L1618.6,556.9 L1625.6,556.6 L1633.0,556.4 L1640.7,556.2 L1649.0,556.1 L1659.6,556.1 L1670.2,556.1 L1678.3,556.2 L1685.6,556.4 L1692.4,556.6 L1698.7,556.9 L1704.6,557.3 L1710.2,557.8 L1715.5,558.2 L1720.4,558.8 L1725.0,559.4 L1729.3,560.1 L1733.3,560.9 L1737.0,561.7 L1740.3,562.6 L1743.4,563.5 L1746.1,564.5 L1748.5,565.6 L1750.6,566.7 L1752.4,567.9 L1752.8,569.1 L1752.8,1236.8 L1751.0,1238.8 L1748.1,1241.3 L1745.0,1243.9 L1742.2,1245.8 L1739.4,1247.6 L1736.4,1249.3 L1733.3,1250.9 L1729.9,1252.5 L1726.4,1253.9 L1722.6,1255.3 L1718.7,1256.7 L1714.5,1258.0 L1710.2,1259.2 L1705.7,1260.3 L1700.9,1261.5 L1696.0,1262.5 L1690.9,1263.5 L1685.7,1264.5 L1680.2,1265.3 L1674.6,1266.1 L1668.8,1266.9 L1662.9,1267.6 L1656.8,1268.2 L1650.5,1268.8 L1644.1,1269.3 L1637.5,1269.7 L1630.7,1270.1 L1623.6,1270.4 L1616.3,1270.6 L1608.6,1270.8 L1600.2,1270.9 L1589.6,1270.9 L1579.1,1270.9 L1571.0,1270.8 L1563.7,1270.6 L1556.9,1270.4 L1550.6,1270.1 L1544.7,1269.7 L1539.1,1269.3 L1533.8,1268.8 L1528.9,1268.2 L1524.3,1267.6 L1520.0,1266.9 L1516.0,1266.1 L1512.3,1265.3 L1508.9,1264.5 L1505.9,1263.5 L1503.2,1262.5 L1500.7,1261.5 L1498.7,1260.3 L1496.9,1259.2 L1496.4,1258.0Z" fill="none" stroke="#00214c" stroke-width="2.2" stroke-opacity="0.8"/>
<line x1="1786.00" y1="1304.40" x2="2283.60" y2="926.00" stroke="#d6d4d4" stroke-width="3.6" fill="none"/>
<g font-family="'Liberation Serif', serif" fill="#000" stroke="#000" stroke-width="0.5">
<text x="221" y="426.0" font-size="78" text-anchor="middle" letter-spacing="2">48</text>
<text x="221" y="576.2" font-size="78" text-anchor="middle" letter-spacing="2">46</text>
<text x="221" y="726.4" font-size="78" text-anchor="middle" letter-spacing="2">44</text>
<text x="221" y="876.6" font-size="78" text-anchor="middle" letter-spacing="2">42</text>
<text x="221" y="1026.8" font-size="78" text-anchor="middle" letter-spacing="2">40</text>
<text x="221" y="1177.0" font-size="78" text-anchor="middle" letter-spacing="2">38</text>
<text x="221" y="1327.2" font-size="78" text-anchor="middle" letter-spacing="2">36</text>
<text x="568.5" y="1409.5" font-size="73" text-anchor="middle">560</text>
<text x="1052.5" y="1409.5" font-size="73" text-anchor="middle">900</text>
<text x="1542" y="1409.5" font-size="73" text-anchor="middle">1120</text>
<text x="1973.5" y="1265" font-size="73" text-anchor="middle" letter-spacing="-1">14</text>
<text x="2143.5" y="1136.5" font-size="73" text-anchor="middle" letter-spacing="-1">28</text>
<text x="2310.5" y="1012.5" font-size="73" text-anchor="middle" letter-spacing="-1">40</text>
<text x="963" y="1527" font-size="72" text-anchor="middle">Rotational Speed (rpm)</text>
<text transform="translate(69 843) rotate(-90)" font-size="72" text-anchor="middle">Hardness (Shore D)</text>
<g transform="translate(2240.2 1365.8) rotate(-45)" font-size="70" text-anchor="middle"><text x="0" y="-61.5">Traverse</text><text x="0" y="18.5">speed</text><text x="0" y="98" letter-spacing="-2">(mm/min)</text></g>
</g>
</g>
</svg>
</body>
</html>
